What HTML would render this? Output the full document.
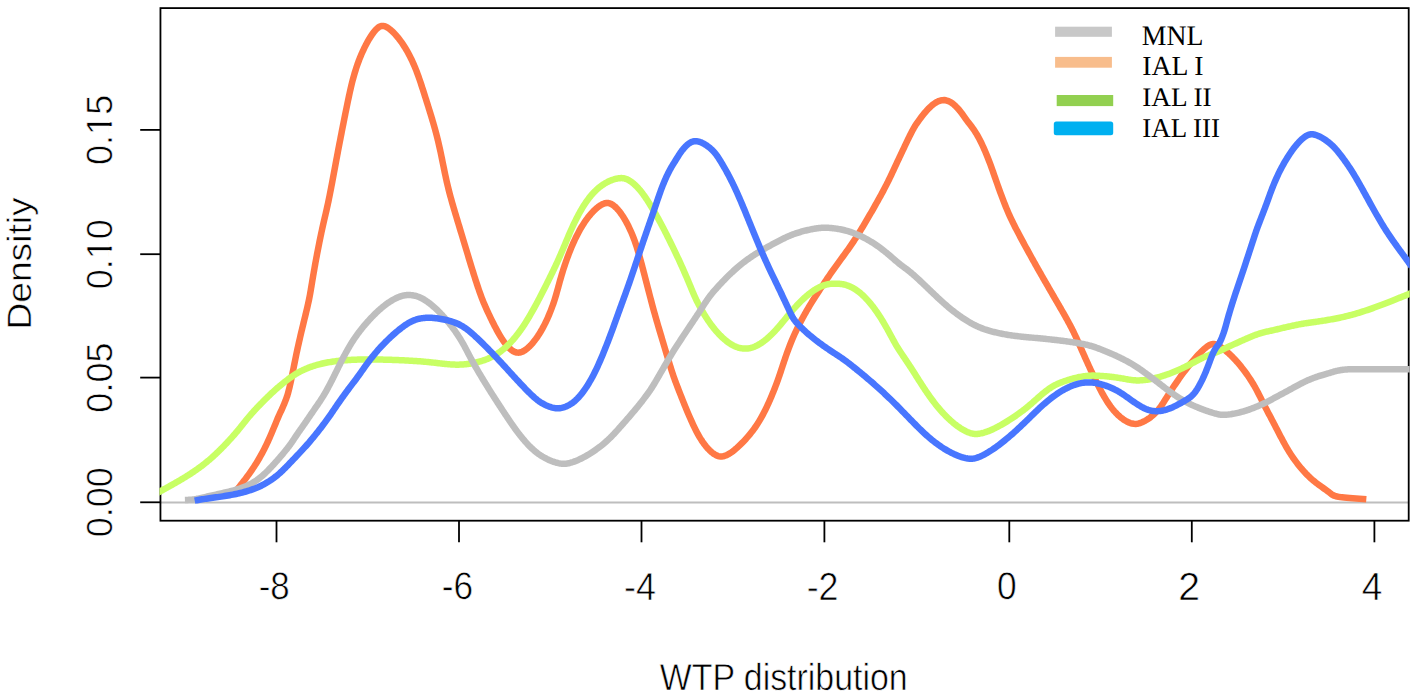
<!DOCTYPE html><html><head><meta charset="utf-8"><title>WTP distribution</title><style>html,body{margin:0;padding:0;background:#fff;overflow:hidden}svg{display:block}text{text-rendering:geometricPrecision}</style></head><body><svg width="1417" height="697" viewBox="0 0 1417 697"><rect x="0" y="0" width="1417" height="697" fill="#fff"/><line x1="160.45" y1="502.50" x2="1408.70" y2="502.50" stroke="#bebebe" stroke-width="2.00"/><rect x="160.45" y="8.10" width="1248.25" height="512.60" fill="none" stroke="#000" stroke-width="1.80"/><defs><clipPath id="c"><rect x="159.45" y="7.10" width="1250.25" height="514.60"/></clipPath></defs><g clip-path="url(#c)" fill="none" stroke-width="6.50" stroke-linejoin="round" stroke-linecap="butt" shape-rendering="auto"><path d="M237.58,489.00 L238.49,487.85 L239.40,486.70 L240.30,485.54 L241.21,484.39 L242.12,483.23 L243.03,482.05 L243.96,480.86 L244.90,479.63 L245.85,478.36 L246.83,477.05 L247.83,475.69 L248.84,474.29 L249.87,472.86 L250.90,471.38 L251.95,469.86 L252.99,468.30 L254.05,466.71 L255.10,465.08 L256.15,463.42 L257.19,461.72 L258.23,460.00 L259.26,458.24 L260.28,456.47 L261.28,454.66 L262.27,452.84 L263.24,451.01 L264.19,449.16 L265.12,447.30 L266.04,445.45 L266.92,443.60 L267.79,441.75 L268.62,439.91 L269.44,438.09 L270.23,436.28 L271.00,434.50 L271.75,432.74 L272.48,431.00 L273.19,429.30 L273.88,427.63 L274.55,426.00 L275.20,424.41 L275.84,422.88 L276.45,421.39 L277.04,419.98 L277.61,418.62 L278.16,417.35 L278.69,416.15 L279.20,415.02 L279.69,413.96 L280.16,412.94 L280.62,411.96 L281.07,411.01 L281.51,410.07 L281.94,409.13 L282.36,408.18 L282.78,407.23 L283.19,406.28 L283.59,405.33 L283.98,404.39 L284.37,403.45 L284.74,402.53 L285.10,401.62 L285.44,400.74 L285.78,399.87 L286.10,399.01 L286.42,398.15 L286.73,397.26 L287.04,396.35 L287.35,395.39 L287.66,394.38 L287.97,393.30 L288.29,392.14 L288.62,390.90 L288.96,389.57 L289.30,388.16 L289.65,386.68 L290.01,385.11 L290.38,383.48 L290.75,381.77 L291.13,379.99 L291.52,378.14 L291.91,376.23 L292.31,374.26 L292.72,372.24 L293.14,370.17 L293.56,368.06 L293.98,365.92 L294.42,363.74 L294.86,361.55 L295.30,359.34 L295.76,357.13 L296.22,354.91 L296.68,352.69 L297.16,350.48 L297.63,348.29 L298.11,346.11 L298.59,343.95 L299.08,341.81 L299.56,339.70 L300.04,337.62 L300.51,335.57 L300.98,333.56 L301.45,331.59 L301.91,329.67 L302.36,327.78 L302.80,325.95 L303.23,324.15 L303.66,322.40 L304.07,320.70 L304.48,319.05 L304.87,317.45 L305.24,315.90 L305.61,314.39 L305.96,312.94 L306.30,311.55 L306.62,310.20 L306.93,308.90 L307.22,307.65 L307.50,306.44 L307.77,305.27 L308.02,304.15 L308.26,303.05 L308.50,301.99 L308.72,300.96 L308.93,299.96 L309.13,298.98 L309.33,298.02 L309.51,297.08 L309.69,296.15 L309.86,295.23 L310.03,294.30 L310.20,293.36 L310.37,292.41 L310.54,291.43 L310.71,290.41 L310.89,289.35 L311.07,288.25 L311.27,287.08 L311.47,285.86 L311.69,284.56 L311.92,283.19 L312.15,281.77 L312.40,280.28 L312.66,278.75 L312.93,277.18 L313.20,275.57 L313.48,273.94 L313.77,272.28 L314.06,270.61 L314.35,268.94 L314.65,267.26 L314.95,265.59 L315.24,263.92 L315.54,262.27 L315.85,260.63 L316.15,259.00 L316.45,257.39 L316.75,255.79 L317.05,254.20 L317.35,252.64 L317.65,251.08 L317.94,249.55 L318.24,248.03 L318.53,246.54 L318.83,245.07 L319.12,243.61 L319.40,242.18 L319.69,240.77 L319.97,239.38 L320.25,238.01 L320.54,236.65 L320.81,235.31 L321.09,233.99 L321.37,232.68 L321.65,231.38 L321.93,230.09 L322.21,228.81 L322.49,227.55 L322.77,226.28 L323.05,225.03 L323.33,223.78 L323.62,222.54 L323.90,221.29 L324.19,220.05 L324.48,218.79 L324.78,217.53 L325.08,216.25 L325.38,214.95 L325.69,213.63 L326.00,212.28 L326.32,210.90 L326.64,209.48 L326.97,208.03 L327.30,206.52 L327.64,204.97 L327.99,203.37 L328.34,201.71 L328.70,199.99 L329.07,198.20 L329.45,196.34 L329.83,194.42 L330.22,192.44 L330.62,190.41 L331.02,188.32 L331.43,186.20 L331.84,184.04 L332.26,181.84 L332.67,179.63 L333.09,177.39 L333.51,175.13 L333.93,172.87 L334.36,170.61 L334.78,168.35 L335.20,166.10 L335.61,163.86 L336.03,161.64 L336.44,159.45 L336.85,157.28 L337.25,155.15 L337.65,153.04 L338.04,150.97 L338.43,148.92 L338.82,146.90 L339.20,144.90 L339.58,142.94 L339.96,141.00 L340.33,139.09 L340.69,137.21 L341.05,135.35 L341.41,133.52 L341.76,131.72 L342.11,129.94 L342.46,128.19 L342.80,126.46 L343.14,124.76 L343.47,123.09 L343.80,121.43 L344.12,119.80 L344.44,118.19 L344.76,116.60 L345.08,115.02 L345.39,113.47 L345.71,111.92 L346.02,110.39 L346.33,108.87 L346.63,107.37 L346.94,105.87 L347.25,104.38 L347.55,102.90 L347.86,101.42 L348.17,99.95 L348.48,98.48 L348.79,97.01 L349.10,95.55 L349.41,94.08 L349.73,92.62 L350.06,91.15 L350.39,89.69 L350.72,88.22 L351.07,86.75 L351.42,85.27 L351.78,83.79 L352.15,82.31 L352.53,80.82 L352.92,79.32 L353.33,77.82 L353.75,76.30 L354.18,74.78 L354.63,73.26 L355.09,71.72 L355.57,70.17 L356.06,68.62 L356.58,67.06 L357.11,65.49 L357.66,63.92 L358.23,62.34 L358.82,60.75 L359.43,59.16 L360.07,57.56 L360.73,55.95 L361.41,54.34 L362.11,52.73 L362.84,51.12 L363.59,49.52 L364.35,47.92 L365.14,46.33 L365.95,44.76 L366.77,43.21 L367.62,41.68 L368.48,40.17 L369.35,38.69 L370.24,37.25 L371.14,35.86 L372.05,34.51 L372.96,33.24 L373.88,32.03 L374.80,30.90 L375.71,29.86 L376.63,28.91 L377.55,28.08 L378.47,27.36 L379.39,26.77 L380.32,26.32 L381.26,26.02 L382.23,25.88 L383.24,25.91 L384.30,26.12 L385.44,26.52 L386.63,27.09 L387.86,27.82 L389.13,28.69 L390.43,29.71 L391.74,30.84 L393.05,32.08 L394.36,33.41 L395.66,34.83 L396.94,36.32 L398.21,37.86 L399.45,39.45 L400.66,41.08 L401.83,42.74 L402.97,44.42 L404.07,46.11 L405.14,47.81 L406.17,49.52 L407.16,51.22 L408.11,52.92 L409.02,54.60 L409.89,56.26 L410.73,57.91 L411.53,59.54 L412.29,61.16 L413.03,62.77 L413.73,64.36 L414.42,65.95 L415.07,67.53 L415.71,69.11 L416.33,70.68 L416.93,72.24 L417.51,73.81 L418.08,75.37 L418.64,76.92 L419.18,78.47 L419.72,80.02 L420.24,81.56 L420.75,83.09 L421.25,84.61 L421.75,86.12 L422.24,87.63 L422.72,89.12 L423.20,90.60 L423.67,92.08 L424.14,93.54 L424.61,94.99 L425.07,96.44 L425.52,97.87 L425.98,99.30 L426.43,100.73 L426.88,102.14 L427.32,103.55 L427.76,104.96 L428.20,106.36 L428.63,107.76 L429.07,109.15 L429.50,110.54 L429.93,111.93 L430.35,113.31 L430.78,114.69 L431.20,116.07 L431.61,117.45 L432.03,118.82 L432.44,120.20 L432.84,121.57 L433.24,122.94 L433.64,124.30 L434.03,125.67 L434.42,127.03 L434.80,128.40 L435.17,129.76 L435.54,131.12 L435.91,132.48 L436.27,133.85 L436.63,135.22 L436.98,136.60 L437.33,137.99 L437.67,139.39 L438.02,140.81 L438.36,142.24 L438.70,143.70 L439.04,145.17 L439.38,146.67 L439.72,148.20 L440.06,149.75 L440.41,151.33 L440.75,152.95 L441.10,154.60 L441.45,156.29 L441.80,158.01 L442.16,159.75 L442.51,161.52 L442.88,163.31 L443.24,165.12 L443.61,166.95 L443.99,168.78 L444.37,170.63 L444.75,172.48 L445.14,174.33 L445.53,176.18 L445.93,178.03 L446.34,179.87 L446.75,181.71 L447.17,183.52 L447.59,185.33 L448.02,187.11 L448.46,188.88 L448.90,190.63 L449.34,192.37 L449.80,194.09 L450.26,195.81 L450.72,197.51 L451.19,199.20 L451.66,200.89 L452.13,202.57 L452.62,204.24 L453.10,205.91 L453.59,207.58 L454.08,209.25 L454.57,210.91 L455.07,212.58 L455.57,214.25 L456.07,215.92 L456.58,217.60 L457.08,219.28 L457.59,220.97 L458.10,222.66 L458.61,224.35 L459.13,226.05 L459.64,227.76 L460.16,229.47 L460.68,231.18 L461.20,232.90 L461.72,234.63 L462.25,236.36 L462.77,238.09 L463.30,239.83 L463.82,241.58 L464.35,243.33 L464.88,245.09 L465.41,246.85 L465.94,248.61 L466.47,250.38 L467.00,252.14 L467.54,253.91 L468.07,255.68 L468.60,257.44 L469.13,259.20 L469.67,260.96 L470.20,262.71 L470.73,264.46 L471.26,266.19 L471.79,267.92 L472.32,269.64 L472.85,271.34 L473.38,273.04 L473.91,274.72 L474.44,276.38 L474.96,278.03 L475.48,279.65 L476.00,281.26 L476.51,282.83 L477.02,284.38 L477.53,285.89 L478.02,287.38 L478.51,288.83 L479.00,290.24 L479.48,291.60 L479.94,292.93 L480.40,294.21 L480.85,295.45 L481.30,296.63 L481.73,297.78 L482.16,298.90 L482.60,300.00 L483.03,301.08 L483.47,302.15 L483.92,303.22 L484.38,304.30 L484.85,305.39 L485.34,306.50 L485.85,307.64 L486.38,308.82 L486.93,310.04 L487.51,311.31 L488.12,312.63 L488.75,314.00 L489.42,315.41 L490.11,316.86 L490.83,318.36 L491.58,319.89 L492.35,321.47 L493.16,323.08 L494.00,324.72 L494.87,326.40 L495.77,328.11 L496.70,329.84 L497.66,331.59 L498.65,333.34 L499.67,335.08 L500.71,336.81 L501.79,338.52 L502.90,340.19 L504.03,341.83 L505.19,343.41 L506.38,344.92 L507.58,346.34 L508.82,347.66 L510.07,348.86 L511.34,349.92 L512.63,350.84 L513.94,351.58 L515.27,352.14 L516.62,352.50 L518.00,352.64 L519.39,352.55 L520.81,352.23 L522.23,351.71 L523.65,351.01 L525.08,350.14 L526.49,349.12 L527.88,347.96 L529.26,346.69 L530.61,345.32 L531.93,343.87 L533.22,342.35 L534.47,340.77 L535.69,339.16 L536.86,337.52 L538.00,335.85 L539.09,334.16 L540.15,332.47 L541.16,330.77 L542.13,329.09 L543.05,327.41 L543.94,325.75 L544.78,324.11 L545.59,322.49 L546.36,320.88 L547.10,319.29 L547.80,317.72 L548.48,316.16 L549.13,314.63 L549.76,313.11 L550.36,311.61 L550.94,310.13 L551.50,308.66 L552.05,307.20 L552.58,305.75 L553.09,304.30 L553.59,302.85 L554.07,301.40 L554.55,299.95 L555.01,298.49 L555.46,297.01 L555.91,295.52 L556.35,294.01 L556.78,292.48 L557.21,290.93 L557.64,289.36 L558.08,287.77 L558.51,286.16 L558.96,284.53 L559.41,282.87 L559.87,281.20 L560.35,279.50 L560.84,277.77 L561.34,276.02 L561.87,274.25 L562.42,272.46 L562.98,270.65 L563.56,268.82 L564.16,266.97 L564.77,265.12 L565.41,263.26 L566.05,261.39 L566.72,259.52 L567.39,257.65 L568.09,255.78 L568.79,253.91 L569.51,252.05 L570.25,250.20 L571.00,248.35 L571.77,246.51 L572.56,244.68 L573.36,242.86 L574.18,241.05 L575.02,239.25 L575.89,237.46 L576.77,235.69 L577.68,233.92 L578.60,232.17 L579.55,230.43 L580.53,228.71 L581.53,227.01 L582.56,225.34 L583.61,223.68 L584.69,222.05 L585.80,220.45 L586.94,218.87 L588.11,217.33 L589.31,215.82 L590.53,214.36 L591.77,212.95 L593.02,211.60 L594.29,210.32 L595.56,209.12 L596.84,208.00 L598.12,206.97 L599.39,206.04 L600.65,205.22 L601.88,204.52 L603.09,203.94 L604.26,203.49 L605.39,203.18 L606.47,203.01 L607.53,202.98 L608.56,203.08 L609.59,203.33 L610.62,203.72 L611.66,204.23 L612.71,204.87 L613.76,205.64 L614.82,206.51 L615.88,207.49 L616.94,208.58 L618.00,209.75 L619.06,211.02 L620.11,212.36 L621.14,213.77 L622.17,215.25 L623.18,216.78 L624.16,218.36 L625.13,219.98 L626.07,221.64 L626.99,223.33 L627.88,225.04 L628.75,226.77 L629.58,228.52 L630.39,230.27 L631.17,232.03 L631.91,233.78 L632.63,235.53 L633.31,237.26 L633.97,238.99 L634.60,240.72 L635.20,242.43 L635.79,244.14 L636.35,245.85 L636.90,247.54 L637.42,249.23 L637.94,250.92 L638.44,252.60 L638.92,254.27 L639.40,255.93 L639.87,257.60 L640.33,259.25 L640.78,260.91 L641.23,262.56 L641.67,264.21 L642.11,265.86 L642.54,267.51 L642.97,269.16 L643.40,270.82 L643.83,272.47 L644.26,274.12 L644.69,275.78 L645.11,277.43 L645.54,279.08 L645.97,280.73 L646.39,282.36 L646.81,283.99 L647.23,285.61 L647.64,287.21 L648.06,288.80 L648.46,290.37 L648.86,291.93 L649.26,293.46 L649.65,294.98 L650.04,296.48 L650.43,297.97 L650.82,299.44 L651.20,300.92 L651.59,302.39 L651.98,303.86 L652.37,305.33 L652.77,306.82 L653.18,308.31 L653.59,309.82 L654.01,311.35 L654.44,312.90 L654.89,314.47 L655.34,316.07 L655.80,317.68 L656.27,319.32 L656.75,320.98 L657.24,322.65 L657.73,324.34 L658.23,326.05 L658.74,327.77 L659.25,329.50 L659.77,331.25 L660.29,333.00 L660.82,334.77 L661.35,336.54 L661.88,338.31 L662.41,340.09 L662.94,341.86 L663.47,343.63 L663.99,345.39 L664.52,347.14 L665.04,348.88 L665.56,350.60 L666.07,352.30 L666.57,353.98 L667.07,355.64 L667.56,357.27 L668.04,358.86 L668.51,360.42 L668.97,361.94 L669.42,363.42 L669.86,364.85 L670.29,366.24 L670.70,367.57 L671.09,368.84 L671.48,370.05 L671.84,371.20 L672.20,372.29 L672.54,373.32 L672.87,374.31 L673.19,375.26 L673.51,376.19 L673.83,377.10 L674.15,378.01 L674.48,378.91 L674.82,379.83 L675.16,380.77 L675.53,381.74 L675.90,382.75 L676.30,383.80 L676.72,384.91 L677.16,386.06 L677.62,387.27 L678.11,388.53 L678.61,389.84 L679.14,391.21 L679.70,392.63 L680.28,394.11 L680.89,395.65 L681.52,397.26 L682.18,398.92 L682.86,400.64 L683.57,402.41 L684.31,404.24 L685.07,406.11 L685.86,408.02 L686.67,409.97 L687.50,411.96 L688.36,413.97 L689.23,416.01 L690.13,418.06 L691.05,420.14 L691.99,422.21 L692.95,424.29 L693.93,426.36 L694.92,428.41 L695.94,430.43 L696.98,432.42 L698.04,434.37 L699.12,436.27 L700.21,438.11 L701.33,439.89 L702.46,441.60 L703.61,443.25 L704.77,444.82 L705.95,446.32 L707.15,447.74 L708.36,449.08 L709.58,450.33 L710.81,451.48 L712.04,452.53 L713.27,453.48 L714.50,454.31 L715.71,455.02 L716.91,455.60 L718.10,456.05 L719.29,456.35 L720.49,456.51 L721.72,456.51 L722.98,456.35 L724.29,456.03 L725.65,455.55 L727.05,454.92 L728.47,454.16 L729.90,453.30 L731.33,452.35 L732.75,451.32 L734.16,450.22 L735.54,449.07 L736.91,447.88 L738.25,446.66 L739.56,445.42 L740.85,444.17 L742.10,442.92 L743.31,441.67 L744.50,440.42 L745.66,439.17 L746.78,437.92 L747.89,436.66 L748.97,435.40 L750.03,434.12 L751.06,432.83 L752.08,431.52 L753.09,430.20 L754.07,428.86 L755.04,427.50 L755.99,426.12 L756.93,424.73 L757.85,423.31 L758.75,421.88 L759.63,420.42 L760.50,418.95 L761.36,417.46 L762.20,415.94 L763.02,414.41 L763.83,412.86 L764.62,411.30 L765.41,409.72 L766.17,408.14 L766.93,406.54 L767.68,404.93 L768.41,403.32 L769.13,401.70 L769.85,400.08 L770.55,398.46 L771.25,396.84 L771.93,395.21 L772.61,393.58 L773.28,391.96 L773.93,390.33 L774.58,388.70 L775.21,387.07 L775.84,385.44 L776.45,383.80 L777.06,382.17 L777.65,380.53 L778.24,378.90 L778.81,377.26 L779.37,375.62 L779.93,373.99 L780.48,372.35 L781.02,370.72 L781.56,369.09 L782.10,367.47 L782.63,365.85 L783.16,364.24 L783.69,362.63 L784.23,361.03 L784.76,359.44 L785.30,357.86 L785.84,356.29 L786.38,354.72 L786.93,353.16 L787.49,351.62 L788.05,350.08 L788.62,348.54 L789.19,347.02 L789.78,345.50 L790.37,343.98 L790.98,342.47 L791.59,340.97 L792.22,339.47 L792.86,337.98 L793.51,336.49 L794.17,335.00 L794.84,333.52 L795.52,332.05 L796.22,330.58 L796.92,329.12 L797.63,327.67 L798.34,326.23 L799.07,324.79 L799.79,323.36 L800.53,321.95 L801.27,320.54 L802.01,319.14 L802.76,317.75 L803.51,316.38 L804.27,315.01 L805.03,313.65 L805.79,312.30 L806.56,310.96 L807.33,309.63 L808.10,308.31 L808.88,307.00 L809.66,305.69 L810.44,304.39 L811.23,303.10 L812.03,301.81 L812.82,300.53 L813.63,299.26 L814.43,297.99 L815.24,296.72 L816.06,295.45 L816.88,294.18 L817.70,292.91 L818.53,291.64 L819.37,290.37 L820.21,289.09 L821.06,287.81 L821.91,286.52 L822.78,285.22 L823.64,283.92 L824.52,282.61 L825.39,281.30 L826.28,279.99 L827.16,278.68 L828.05,277.36 L828.95,276.06 L829.84,274.75 L830.74,273.45 L831.64,272.16 L832.55,270.87 L833.45,269.59 L834.35,268.32 L835.26,267.06 L836.16,265.81 L837.06,264.57 L837.96,263.33 L838.86,262.10 L839.75,260.87 L840.65,259.65 L841.53,258.44 L842.42,257.23 L843.30,256.02 L844.17,254.82 L845.04,253.62 L845.91,252.42 L846.77,251.22 L847.63,250.01 L848.49,248.80 L849.34,247.59 L850.19,246.36 L851.05,245.13 L851.90,243.88 L852.75,242.62 L853.60,241.35 L854.45,240.06 L855.31,238.75 L856.16,237.43 L857.02,236.09 L857.87,234.74 L858.73,233.37 L859.59,231.99 L860.45,230.59 L861.31,229.18 L862.18,227.76 L863.05,226.32 L863.92,224.87 L864.79,223.41 L865.66,221.93 L866.53,220.45 L867.40,218.97 L868.27,217.48 L869.13,215.98 L869.99,214.49 L870.85,213.00 L871.71,211.51 L872.56,210.03 L873.40,208.56 L874.24,207.09 L875.06,205.63 L875.88,204.19 L876.69,202.75 L877.49,201.33 L878.28,199.93 L879.05,198.54 L879.81,197.17 L880.56,195.82 L881.29,194.48 L882.00,193.17 L882.70,191.88 L883.38,190.61 L884.05,189.34 L884.71,188.09 L885.36,186.84 L886.01,185.59 L886.64,184.34 L887.28,183.09 L887.91,181.82 L888.54,180.54 L889.17,179.24 L889.81,177.93 L890.44,176.59 L891.09,175.24 L891.74,173.86 L892.39,172.46 L893.06,171.04 L893.73,169.59 L894.42,168.12 L895.11,166.62 L895.82,165.10 L896.54,163.56 L897.28,161.98 L898.03,160.39 L898.78,158.79 L899.55,157.17 L900.31,155.55 L901.08,153.93 L901.85,152.31 L902.61,150.70 L903.37,149.10 L904.12,147.52 L904.86,145.96 L905.60,144.42 L906.32,142.90 L907.04,141.41 L907.74,139.95 L908.43,138.53 L909.11,137.14 L909.77,135.79 L910.42,134.48 L911.06,133.21 L911.69,131.98 L912.31,130.80 L912.92,129.66 L913.53,128.56 L914.13,127.51 L914.73,126.51 L915.33,125.54 L915.95,124.59 L916.60,123.62 L917.30,122.62 L918.06,121.55 L918.90,120.41 L919.82,119.16 L920.83,117.79 L921.95,116.31 L923.15,114.76 L924.44,113.17 L925.81,111.55 L927.25,109.93 L928.76,108.35 L930.33,106.83 L931.95,105.39 L933.62,104.07 L935.33,102.89 L937.07,101.88 L938.82,101.07 L940.60,100.47 L942.37,100.13 L944.13,100.07 L945.89,100.30 L947.61,100.78 L949.31,101.50 L950.97,102.43 L952.58,103.54 L954.15,104.79 L955.66,106.18 L957.12,107.66 L958.51,109.21 L959.84,110.80 L961.10,112.40 L962.29,114.00 L963.43,115.57 L964.50,117.08 L965.51,118.51 L966.46,119.84 L967.36,121.06 L968.22,122.20 L969.04,123.27 L969.83,124.29 L970.60,125.29 L971.35,126.29 L972.11,127.30 L972.86,128.35 L973.62,129.43 L974.38,130.55 L975.14,131.71 L975.91,132.92 L976.67,134.17 L977.44,135.48 L978.21,136.84 L978.98,138.25 L979.75,139.72 L980.51,141.23 L981.28,142.78 L982.04,144.37 L982.79,146.00 L983.55,147.65 L984.29,149.33 L985.03,151.03 L985.76,152.75 L986.48,154.48 L987.19,156.23 L987.89,157.97 L988.57,159.72 L989.24,161.47 L989.90,163.20 L990.55,164.93 L991.17,166.65 L991.79,168.35 L992.39,170.03 L992.98,171.70 L993.56,173.35 L994.13,174.98 L994.69,176.59 L995.24,178.18 L995.79,179.74 L996.32,181.27 L996.85,182.78 L997.38,184.27 L997.89,185.73 L998.40,187.16 L998.90,188.57 L999.40,189.94 L999.89,191.30 L1000.37,192.62 L1000.85,193.92 L1001.33,195.20 L1001.80,196.47 L1002.27,197.72 L1002.74,198.95 L1003.21,200.18 L1003.68,201.39 L1004.15,202.61 L1004.63,203.81 L1005.11,205.02 L1005.59,206.22 L1006.08,207.41 L1006.57,208.61 L1007.07,209.81 L1007.58,211.01 L1008.10,212.20 L1008.62,213.41 L1009.16,214.62 L1009.71,215.84 L1010.28,217.08 L1010.87,218.34 L1011.48,219.63 L1012.10,220.94 L1012.76,222.28 L1013.43,223.65 L1014.13,225.04 L1014.85,226.47 L1015.58,227.91 L1016.33,229.37 L1017.10,230.85 L1017.88,232.34 L1018.67,233.84 L1019.46,235.35 L1020.27,236.86 L1021.08,238.38 L1021.89,239.89 L1022.71,241.41 L1023.53,242.92 L1024.35,244.43 L1025.17,245.94 L1025.99,247.44 L1026.81,248.93 L1027.62,250.41 L1028.43,251.89 L1029.24,253.35 L1030.04,254.81 L1030.85,256.26 L1031.65,257.71 L1032.44,259.15 L1033.24,260.58 L1034.04,262.00 L1034.83,263.42 L1035.62,264.83 L1036.41,266.24 L1037.20,267.64 L1037.99,269.04 L1038.78,270.43 L1039.58,271.83 L1040.37,273.22 L1041.16,274.61 L1041.95,276.00 L1042.75,277.38 L1043.55,278.77 L1044.34,280.16 L1045.14,281.55 L1045.95,282.94 L1046.75,284.34 L1047.55,285.73 L1048.36,287.12 L1049.16,288.51 L1049.97,289.91 L1050.78,291.31 L1051.59,292.70 L1052.39,294.10 L1053.20,295.49 L1054.01,296.89 L1054.82,298.29 L1055.63,299.68 L1056.44,301.07 L1057.24,302.47 L1058.05,303.85 L1058.85,305.24 L1059.65,306.62 L1060.45,308.00 L1061.25,309.38 L1062.04,310.75 L1062.82,312.13 L1063.60,313.49 L1064.38,314.85 L1065.15,316.21 L1065.91,317.57 L1066.66,318.92 L1067.41,320.26 L1068.15,321.61 L1068.87,322.95 L1069.60,324.30 L1070.31,325.64 L1071.01,326.99 L1071.71,328.34 L1072.40,329.69 L1073.08,331.06 L1073.75,332.42 L1074.41,333.80 L1075.07,335.18 L1075.72,336.57 L1076.36,337.96 L1077.00,339.35 L1077.64,340.75 L1078.27,342.15 L1078.89,343.55 L1079.51,344.95 L1080.14,346.35 L1080.76,347.76 L1081.37,349.16 L1081.99,350.57 L1082.61,351.97 L1083.23,353.37 L1083.85,354.78 L1084.47,356.18 L1085.09,357.58 L1085.72,358.98 L1086.35,360.37 L1086.98,361.77 L1087.62,363.17 L1088.26,364.58 L1088.91,365.99 L1089.56,367.41 L1090.22,368.83 L1090.89,370.27 L1091.57,371.72 L1092.25,373.18 L1092.94,374.65 L1093.64,376.14 L1094.36,377.64 L1095.08,379.15 L1095.82,380.67 L1096.57,382.21 L1097.34,383.76 L1098.12,385.33 L1098.91,386.91 L1099.73,388.50 L1100.56,390.10 L1101.42,391.71 L1102.30,393.32 L1103.21,394.95 L1104.15,396.58 L1105.12,398.21 L1106.12,399.84 L1107.15,401.48 L1108.22,403.11 L1109.34,404.74 L1110.50,406.35 L1111.71,407.95 L1112.97,409.53 L1114.29,411.09 L1115.67,412.62 L1117.11,414.11 L1118.60,415.55 L1120.15,416.93 L1121.75,418.24 L1123.39,419.44 L1125.07,420.54 L1126.79,421.52 L1128.54,422.36 L1130.31,423.03 L1132.09,423.53 L1133.86,423.82 L1135.61,423.89 L1137.34,423.73 L1139.03,423.36 L1140.66,422.83 L1142.23,422.19 L1143.71,421.48 L1145.09,420.76 L1146.38,420.02 L1147.58,419.29 L1148.70,418.55 L1149.74,417.80 L1150.73,417.05 L1151.65,416.30 L1152.52,415.55 L1153.34,414.81 L1154.11,414.08 L1154.85,413.36 L1155.56,412.66 L1156.23,411.96 L1156.88,411.28 L1157.49,410.60 L1158.09,409.92 L1158.66,409.25 L1159.22,408.57 L1159.78,407.86 L1160.35,407.10 L1160.94,406.28 L1161.57,405.38 L1162.25,404.37 L1163.00,403.24 L1163.81,401.97 L1164.70,400.58 L1165.65,399.07 L1166.67,397.46 L1167.74,395.75 L1168.87,393.97 L1170.05,392.12 L1171.27,390.23 L1172.54,388.29 L1173.84,386.32 L1175.18,384.32 L1176.56,382.31 L1177.96,380.28 L1179.39,378.25 L1180.85,376.22 L1182.32,374.19 L1183.82,372.18 L1185.33,370.19 L1186.86,368.22 L1188.38,366.29 L1189.91,364.40 L1191.43,362.55 L1192.94,360.76 L1194.43,359.04 L1195.89,357.38 L1197.33,355.80 L1198.74,354.30 L1200.10,352.88 L1201.43,351.55 L1202.72,350.32 L1203.96,349.19 L1205.14,348.16 L1206.27,347.24 L1207.35,346.43 L1208.38,345.73 L1209.37,345.15 L1210.33,344.68 L1211.26,344.33 L1212.17,344.11 L1213.06,344.00 L1213.95,344.02 L1214.88,344.16 L1215.85,344.44 L1216.89,344.86 L1218.03,345.42 L1219.27,346.12 L1220.61,346.97 L1222.06,347.96 L1223.58,349.07 L1225.17,350.31 L1226.82,351.68 L1228.50,353.15 L1230.22,354.74 L1231.95,356.43 L1233.69,358.20 L1235.42,360.05 L1237.15,361.95 L1238.84,363.91 L1240.51,365.90 L1242.12,367.91 L1243.69,369.94 L1245.21,371.97 L1246.66,373.99 L1248.05,375.99 L1249.38,377.95 L1250.63,379.86 L1251.81,381.72 L1252.90,383.52 L1253.93,385.24 L1254.88,386.91 L1255.77,388.50 L1256.60,390.03 L1257.37,391.49 L1258.10,392.88 L1258.78,394.20 L1259.42,395.46 L1260.02,396.66 L1260.60,397.81 L1261.15,398.92 L1261.69,400.00 L1262.22,401.07 L1262.75,402.12 L1263.28,403.19 L1263.82,404.26 L1264.37,405.35 L1264.93,406.46 L1265.51,407.58 L1266.09,408.71 L1266.69,409.86 L1267.29,411.03 L1267.91,412.21 L1268.54,413.41 L1269.19,414.62 L1269.84,415.85 L1270.50,417.10 L1271.18,418.37 L1271.86,419.66 L1272.55,420.98 L1273.25,422.32 L1273.96,423.68 L1274.68,425.06 L1275.41,426.46 L1276.15,427.88 L1276.89,429.32 L1277.64,430.77 L1278.40,432.24 L1279.16,433.71 L1279.92,435.18 L1280.68,436.65 L1281.45,438.10 L1282.21,439.54 L1282.97,440.97 L1283.74,442.39 L1284.52,443.81 L1285.31,445.22 L1286.11,446.63 L1286.93,448.04 L1287.76,449.45 L1288.61,450.86 L1289.47,452.25 L1290.34,453.62 L1291.22,454.98 L1292.10,456.30 L1292.99,457.60 L1293.89,458.87 L1294.80,460.14 L1295.73,461.39 L1296.68,462.65 L1297.65,463.90 L1298.65,465.17 L1299.66,466.43 L1300.69,467.69 L1301.74,468.93 L1302.80,470.16 L1303.88,471.36 L1304.97,472.55 L1306.07,473.73 L1307.20,474.88 L1308.35,476.03 L1309.52,477.16 L1310.73,478.28 L1311.96,479.39 L1313.25,480.50 L1314.58,481.60 L1315.96,482.70 L1317.39,483.79 L1318.84,484.86 L1320.30,485.92 L1321.76,486.96 L1323.20,487.98 L1324.61,488.96 L1325.93,489.89 L1327.15,490.77 L1328.23,491.57 L1329.15,492.29 L1329.95,492.94 L1330.66,493.52 L1331.31,494.04 L1331.95,494.51 L1332.61,494.94 L1333.32,495.32 L1334.10,495.67 L1334.98,495.99 L1335.99,496.27 L1337.15,496.53 L1338.50,496.76 L1340.10,496.99 L1341.98,497.21 L1344.19,497.44 L1346.76,497.68 L1349.63,497.94 L1352.73,498.21 L1356.01,498.48 L1359.38,498.75 L1362.84,499.02 L1366.33,499.29" stroke="#ff7845"/><path d="M157.35,492.89 L158.36,492.33 L159.39,491.77 L160.43,491.21 L161.48,490.63 L162.56,490.04 L163.64,489.45 L164.75,488.84 L165.87,488.23 L166.99,487.61 L168.13,486.98 L169.27,486.35 L170.42,485.71 L171.58,485.06 L172.73,484.41 L173.89,483.76 L175.05,483.10 L176.20,482.44 L177.35,481.78 L178.49,481.12 L179.63,480.46 L180.75,479.80 L181.87,479.13 L182.97,478.47 L184.05,477.82 L185.12,477.16 L186.18,476.50 L187.22,475.85 L188.25,475.20 L189.27,474.55 L190.28,473.90 L191.27,473.24 L192.26,472.59 L193.23,471.94 L194.19,471.29 L195.14,470.64 L196.08,469.99 L197.02,469.33 L197.94,468.67 L198.86,468.01 L199.77,467.35 L200.67,466.69 L201.57,466.02 L202.47,465.34 L203.35,464.66 L204.24,463.97 L205.12,463.27 L206.00,462.56 L206.88,461.85 L207.76,461.12 L208.64,460.38 L209.52,459.64 L210.40,458.87 L211.28,458.10 L212.16,457.31 L213.05,456.52 L213.93,455.70 L214.82,454.88 L215.71,454.05 L216.60,453.21 L217.49,452.35 L218.38,451.49 L219.27,450.62 L220.16,449.74 L221.04,448.85 L221.93,447.96 L222.82,447.06 L223.70,446.15 L224.59,445.24 L225.47,444.32 L226.34,443.40 L227.22,442.47 L228.09,441.54 L228.95,440.61 L229.81,439.67 L230.67,438.74 L231.51,437.80 L232.35,436.87 L233.18,435.93 L233.99,435.00 L234.80,434.07 L235.60,433.14 L236.38,432.22 L237.15,431.30 L237.91,430.39 L238.66,429.48 L239.40,428.57 L240.12,427.68 L240.83,426.79 L241.54,425.91 L242.23,425.05 L242.91,424.19 L243.59,423.34 L244.25,422.50 L244.91,421.68 L245.57,420.87 L246.21,420.07 L246.85,419.28 L247.48,418.51 L248.11,417.76 L248.74,417.01 L249.35,416.28 L249.97,415.56 L250.58,414.85 L251.19,414.15 L251.79,413.46 L252.39,412.78 L252.99,412.11 L253.59,411.45 L254.18,410.79 L254.78,410.14 L255.37,409.50 L255.97,408.86 L256.56,408.23 L257.15,407.61 L257.75,406.98 L258.35,406.36 L258.94,405.74 L259.54,405.13 L260.14,404.51 L260.75,403.89 L261.35,403.28 L261.96,402.66 L262.57,402.04 L263.19,401.42 L263.81,400.79 L264.44,400.16 L265.07,399.52 L265.72,398.88 L266.37,398.23 L267.04,397.57 L267.71,396.91 L268.40,396.24 L269.11,395.55 L269.83,394.86 L270.57,394.16 L271.32,393.45 L272.08,392.73 L272.85,392.02 L273.64,391.30 L274.42,390.58 L275.21,389.87 L276.01,389.16 L276.80,388.46 L277.59,387.77 L278.38,387.09 L279.16,386.43 L279.94,385.78 L280.71,385.15 L281.47,384.52 L282.23,383.91 L282.98,383.32 L283.72,382.73 L284.45,382.16 L285.17,381.60 L285.88,381.05 L286.59,380.51 L287.28,379.98 L287.96,379.47 L288.63,378.96 L289.30,378.46 L289.96,377.97 L290.62,377.48 L291.29,377.01 L291.95,376.54 L292.62,376.08 L293.29,375.62 L293.98,375.16 L294.67,374.71 L295.37,374.27 L296.09,373.83 L296.83,373.38 L297.58,372.95 L298.34,372.51 L299.12,372.08 L299.92,371.65 L300.73,371.23 L301.56,370.81 L302.41,370.40 L303.27,369.99 L304.14,369.58 L305.03,369.18 L305.94,368.79 L306.87,368.40 L307.80,368.02 L308.76,367.65 L309.73,367.28 L310.72,366.92 L311.72,366.57 L312.74,366.23 L313.77,365.89 L314.81,365.56 L315.87,365.24 L316.95,364.93 L318.03,364.63 L319.14,364.33 L320.25,364.05 L321.38,363.77 L322.51,363.50 L323.66,363.25 L324.83,363.00 L326.00,362.77 L327.18,362.54 L328.38,362.32 L329.58,362.12 L330.80,361.92 L332.02,361.74 L333.24,361.56 L334.47,361.40 L335.71,361.24 L336.95,361.09 L338.19,360.95 L339.43,360.81 L340.67,360.69 L341.91,360.57 L343.15,360.46 L344.39,360.36 L345.63,360.26 L346.85,360.17 L348.08,360.08 L349.29,360.01 L350.50,359.93 L351.71,359.87 L352.90,359.81 L354.09,359.75 L355.28,359.70 L356.46,359.66 L357.63,359.62 L358.80,359.58 L359.97,359.55 L361.14,359.52 L362.31,359.50 L363.47,359.48 L364.63,359.46 L365.80,359.45 L366.97,359.44 L368.13,359.44 L369.30,359.44 L370.47,359.44 L371.65,359.44 L372.83,359.45 L374.02,359.46 L375.21,359.47 L376.40,359.49 L377.60,359.50 L378.81,359.52 L380.03,359.55 L381.26,359.57 L382.49,359.60 L383.73,359.63 L384.98,359.66 L386.25,359.70 L387.52,359.73 L388.81,359.77 L390.10,359.82 L391.41,359.86 L392.73,359.91 L394.07,359.96 L395.42,360.01 L396.79,360.06 L398.17,360.12 L399.56,360.18 L400.96,360.24 L402.37,360.30 L403.79,360.37 L405.21,360.44 L406.63,360.51 L408.04,360.58 L409.45,360.65 L410.86,360.73 L412.25,360.81 L413.63,360.89 L415.00,360.98 L416.34,361.07 L417.67,361.16 L418.98,361.25 L420.26,361.35 L421.51,361.44 L422.73,361.55 L423.93,361.65 L425.09,361.75 L426.23,361.86 L427.34,361.97 L428.43,362.08 L429.50,362.19 L430.54,362.30 L431.56,362.41 L432.56,362.52 L433.54,362.63 L434.51,362.74 L435.46,362.85 L436.39,362.96 L437.31,363.06 L438.21,363.17 L439.10,363.27 L439.98,363.37 L440.84,363.46 L441.69,363.56 L442.53,363.65 L443.35,363.74 L444.16,363.82 L444.96,363.90 L445.74,363.98 L446.51,364.06 L447.27,364.13 L448.01,364.19 L448.74,364.26 L449.45,364.32 L450.15,364.37 L450.85,364.42 L451.53,364.46 L452.21,364.50 L452.89,364.54 L453.56,364.57 L454.23,364.60 L454.90,364.62 L455.57,364.63 L456.24,364.64 L456.92,364.65 L457.60,364.65 L458.29,364.64 L459.00,364.63 L459.72,364.61 L460.45,364.58 L461.20,364.55 L461.96,364.50 L462.75,364.45 L463.57,364.39 L464.40,364.32 L465.27,364.24 L466.15,364.15 L467.06,364.05 L467.98,363.93 L468.93,363.81 L469.90,363.67 L470.88,363.51 L471.88,363.34 L472.90,363.16 L473.93,362.95 L474.96,362.74 L476.01,362.50 L477.06,362.25 L478.12,361.99 L479.17,361.71 L480.23,361.41 L481.28,361.10 L482.32,360.77 L483.36,360.43 L484.39,360.07 L485.41,359.70 L486.42,359.31 L487.42,358.91 L488.40,358.49 L489.38,358.06 L490.34,357.62 L491.28,357.16 L492.21,356.69 L493.12,356.21 L494.02,355.71 L494.91,355.20 L495.78,354.68 L496.64,354.14 L497.49,353.60 L498.32,353.04 L499.15,352.47 L499.96,351.89 L500.76,351.30 L501.56,350.69 L502.34,350.07 L503.12,349.45 L503.89,348.81 L504.65,348.16 L505.41,347.49 L506.16,346.81 L506.90,346.12 L507.64,345.42 L508.38,344.70 L509.11,343.97 L509.84,343.22 L510.56,342.45 L511.28,341.67 L512.00,340.88 L512.72,340.07 L513.44,339.25 L514.15,338.41 L514.85,337.56 L515.56,336.71 L516.25,335.84 L516.94,334.96 L517.63,334.08 L518.31,333.19 L518.98,332.30 L519.64,331.40 L520.29,330.50 L520.93,329.60 L521.57,328.69 L522.19,327.79 L522.81,326.88 L523.41,325.98 L524.01,325.08 L524.60,324.17 L525.18,323.27 L525.75,322.36 L526.31,321.46 L526.87,320.56 L527.42,319.66 L527.97,318.76 L528.50,317.86 L529.04,316.96 L529.56,316.06 L530.09,315.17 L530.60,314.27 L531.12,313.38 L531.63,312.49 L532.13,311.60 L532.63,310.71 L533.13,309.82 L533.63,308.93 L534.13,308.04 L534.62,307.14 L535.11,306.24 L535.60,305.34 L536.09,304.44 L536.59,303.53 L537.08,302.61 L537.57,301.69 L538.06,300.76 L538.56,299.83 L539.05,298.89 L539.55,297.94 L540.05,296.98 L540.55,296.02 L541.06,295.04 L541.57,294.06 L542.08,293.07 L542.59,292.07 L543.10,291.07 L543.62,290.06 L544.13,289.04 L544.65,288.02 L545.17,286.99 L545.69,285.96 L546.21,284.92 L546.73,283.88 L547.26,282.83 L547.78,281.78 L548.30,280.73 L548.83,279.67 L549.35,278.61 L549.87,277.55 L550.39,276.48 L550.91,275.42 L551.43,274.35 L551.95,273.28 L552.47,272.21 L552.99,271.14 L553.50,270.07 L554.02,268.99 L554.53,267.92 L555.03,266.85 L555.54,265.77 L556.04,264.70 L556.54,263.62 L557.04,262.55 L557.53,261.47 L558.02,260.40 L558.51,259.32 L558.99,258.25 L559.47,257.18 L559.94,256.11 L560.41,255.04 L560.88,253.97 L561.34,252.91 L561.80,251.84 L562.25,250.78 L562.70,249.72 L563.15,248.66 L563.59,247.61 L564.04,246.55 L564.48,245.50 L564.92,244.45 L565.35,243.40 L565.79,242.36 L566.23,241.31 L566.66,240.27 L567.10,239.24 L567.53,238.20 L567.97,237.17 L568.41,236.14 L568.84,235.12 L569.28,234.10 L569.72,233.08 L570.17,232.06 L570.61,231.04 L571.06,230.03 L571.52,229.01 L571.98,228.00 L572.44,226.99 L572.91,225.97 L573.38,224.95 L573.86,223.94 L574.35,222.91 L574.85,221.89 L575.35,220.86 L575.86,219.83 L576.38,218.80 L576.91,217.76 L577.45,216.71 L578.00,215.66 L578.56,214.60 L579.14,213.54 L579.72,212.47 L580.32,211.41 L580.92,210.34 L581.54,209.27 L582.18,208.20 L582.82,207.14 L583.48,206.08 L584.14,205.02 L584.83,203.97 L585.52,202.92 L586.23,201.89 L586.95,200.86 L587.69,199.84 L588.44,198.83 L589.20,197.84 L589.98,196.86 L590.77,195.89 L591.58,194.94 L592.40,194.01 L593.23,193.09 L594.07,192.20 L594.93,191.32 L595.80,190.47 L596.68,189.64 L597.57,188.83 L598.48,188.05 L599.39,187.29 L600.32,186.56 L601.26,185.86 L602.20,185.18 L603.15,184.54 L604.11,183.92 L605.07,183.34 L606.04,182.78 L607.00,182.26 L607.97,181.76 L608.93,181.30 L609.89,180.87 L610.85,180.47 L611.80,180.10 L612.74,179.77 L613.66,179.47 L614.57,179.19 L615.47,178.95 L616.34,178.74 L617.19,178.56 L618.01,178.41 L618.80,178.29 L619.56,178.20 L620.29,178.14 L621.00,178.10 L621.68,178.10 L622.35,178.13 L623.00,178.19 L623.65,178.29 L624.30,178.42 L624.94,178.58 L625.59,178.78 L626.25,179.01 L626.92,179.28 L627.58,179.58 L628.26,179.92 L628.94,180.29 L629.62,180.70 L630.31,181.14 L631.00,181.61 L631.70,182.12 L632.41,182.66 L633.11,183.23 L633.82,183.83 L634.53,184.46 L635.25,185.12 L635.96,185.81 L636.67,186.52 L637.38,187.26 L638.09,188.02 L638.79,188.81 L639.49,189.61 L640.19,190.44 L640.87,191.28 L641.56,192.14 L642.23,193.02 L642.90,193.92 L643.57,194.83 L644.23,195.75 L644.89,196.68 L645.54,197.63 L646.18,198.59 L646.82,199.55 L647.46,200.52 L648.09,201.51 L648.72,202.49 L649.35,203.48 L649.97,204.48 L650.58,205.48 L651.20,206.48 L651.81,207.49 L652.42,208.50 L653.02,209.51 L653.62,210.54 L654.22,211.56 L654.82,212.60 L655.42,213.63 L656.02,214.68 L656.61,215.73 L657.20,216.79 L657.80,217.86 L658.39,218.93 L658.98,220.01 L659.57,221.10 L660.17,222.20 L660.76,223.30 L661.35,224.42 L661.95,225.54 L662.54,226.68 L663.14,227.82 L663.73,228.96 L664.33,230.12 L664.93,231.28 L665.52,232.45 L666.12,233.62 L666.72,234.81 L667.32,235.99 L667.92,237.19 L668.51,238.39 L669.11,239.59 L669.71,240.80 L670.31,242.01 L670.91,243.23 L671.51,244.45 L672.11,245.68 L672.71,246.90 L673.30,248.14 L673.90,249.37 L674.49,250.60 L675.09,251.84 L675.68,253.07 L676.26,254.31 L676.85,255.54 L677.43,256.77 L678.00,258.00 L678.58,259.23 L679.14,260.45 L679.71,261.67 L680.26,262.89 L680.82,264.10 L681.36,265.30 L681.90,266.50 L682.44,267.70 L682.96,268.88 L683.48,270.05 L683.99,271.21 L684.49,272.36 L684.98,273.49 L685.46,274.61 L685.93,275.70 L686.40,276.78 L686.85,277.83 L687.28,278.86 L687.71,279.87 L688.12,280.85 L688.52,281.80 L688.91,282.72 L689.28,283.61 L689.64,284.47 L689.98,285.29 L690.31,286.08 L690.62,286.84 L690.92,287.56 L691.21,288.26 L691.49,288.94 L691.76,289.59 L692.02,290.23 L692.28,290.85 L692.54,291.46 L692.79,292.06 L693.05,292.65 L693.30,293.24 L693.55,293.83 L693.81,294.42 L694.07,295.02 L694.34,295.62 L694.62,296.24 L694.91,296.87 L695.20,297.51 L695.51,298.18 L695.83,298.86 L696.17,299.56 L696.51,300.29 L696.87,301.03 L697.25,301.79 L697.65,302.57 L698.06,303.38 L698.48,304.20 L698.93,305.06 L699.40,305.93 L699.88,306.83 L700.39,307.75 L700.92,308.70 L701.47,309.68 L702.05,310.68 L702.65,311.71 L703.27,312.76 L703.91,313.84 L704.58,314.93 L705.27,316.04 L705.98,317.16 L706.71,318.30 L707.46,319.44 L708.23,320.59 L709.02,321.74 L709.83,322.89 L710.66,324.05 L711.51,325.19 L712.37,326.33 L713.25,327.47 L714.15,328.59 L715.06,329.70 L715.98,330.79 L716.91,331.86 L717.85,332.91 L718.81,333.94 L719.76,334.95 L720.73,335.92 L721.70,336.87 L722.67,337.78 L723.64,338.66 L724.61,339.51 L725.58,340.32 L726.55,341.09 L727.51,341.82 L728.47,342.52 L729.41,343.18 L730.35,343.80 L731.27,344.37 L732.19,344.91 L733.08,345.40 L733.96,345.85 L734.83,346.26 L735.68,346.63 L736.52,346.97 L737.35,347.26 L738.17,347.53 L738.97,347.76 L739.77,347.96 L740.55,348.13 L741.32,348.26 L742.09,348.38 L742.84,348.46 L743.59,348.52 L744.33,348.56 L745.07,348.58 L745.80,348.57 L746.52,348.55 L747.24,348.50 L747.96,348.43 L748.68,348.34 L749.40,348.23 L750.11,348.09 L750.83,347.92 L751.55,347.73 L752.27,347.52 L752.99,347.28 L753.72,347.01 L754.45,346.71 L755.19,346.39 L755.93,346.05 L756.68,345.68 L757.44,345.28 L758.20,344.86 L758.96,344.42 L759.73,343.96 L760.51,343.48 L761.28,342.98 L762.06,342.45 L762.84,341.91 L763.62,341.34 L764.39,340.76 L765.17,340.16 L765.94,339.54 L766.71,338.90 L767.48,338.24 L768.25,337.57 L769.01,336.88 L769.77,336.18 L770.52,335.47 L771.27,334.74 L772.02,334.00 L772.76,333.25 L773.50,332.49 L774.24,331.72 L774.98,330.94 L775.71,330.14 L776.45,329.33 L777.20,328.50 L777.94,327.66 L778.69,326.80 L779.45,325.92 L780.22,325.02 L781.00,324.10 L781.78,323.16 L782.58,322.20 L783.39,321.22 L784.21,320.22 L785.04,319.21 L785.88,318.18 L786.74,317.14 L787.60,316.10 L788.48,315.04 L789.36,313.98 L790.25,312.92 L791.16,311.85 L792.07,310.79 L793.00,309.73 L793.93,308.67 L794.87,307.62 L795.82,306.57 L796.77,305.54 L797.74,304.51 L798.70,303.50 L799.68,302.50 L800.66,301.52 L801.64,300.55 L802.63,299.60 L803.62,298.66 L804.61,297.75 L805.60,296.86 L806.59,296.00 L807.59,295.15 L808.58,294.34 L809.57,293.54 L810.56,292.78 L811.55,292.04 L812.53,291.34 L813.50,290.66 L814.47,290.01 L815.44,289.40 L816.39,288.82 L817.34,288.27 L818.28,287.76 L819.21,287.28 L820.14,286.83 L821.05,286.41 L821.95,286.03 L822.84,285.68 L823.73,285.36 L824.60,285.07 L825.46,284.81 L826.31,284.59 L827.15,284.39 L827.98,284.22 L828.80,284.08 L829.62,283.96 L830.43,283.87 L831.24,283.79 L832.04,283.73 L832.85,283.69 L833.66,283.67 L834.47,283.65 L835.29,283.65 L836.12,283.66 L836.96,283.67 L837.80,283.71 L838.65,283.75 L839.51,283.82 L840.38,283.90 L841.26,284.01 L842.14,284.14 L843.04,284.30 L843.94,284.49 L844.85,284.70 L845.76,284.95 L846.69,285.24 L847.62,285.55 L848.56,285.90 L849.50,286.28 L850.44,286.70 L851.39,287.15 L852.34,287.64 L853.30,288.16 L854.25,288.72 L855.20,289.31 L856.16,289.94 L857.11,290.60 L858.06,291.30 L859.01,292.03 L859.95,292.80 L860.89,293.59 L861.82,294.41 L862.75,295.26 L863.68,296.14 L864.59,297.04 L865.50,297.96 L866.40,298.91 L867.29,299.87 L868.18,300.86 L869.05,301.86 L869.91,302.88 L870.76,303.91 L871.61,304.96 L872.44,306.01 L873.25,307.08 L874.06,308.15 L874.85,309.22 L875.63,310.31 L876.40,311.39 L877.15,312.47 L877.89,313.56 L878.61,314.64 L879.32,315.71 L880.01,316.78 L880.69,317.84 L881.35,318.90 L882.00,319.95 L882.64,320.99 L883.26,322.02 L883.87,323.05 L884.46,324.06 L885.04,325.07 L885.61,326.06 L886.17,327.05 L886.72,328.02 L887.26,328.98 L887.78,329.93 L888.30,330.87 L888.81,331.80 L889.30,332.71 L889.79,333.61 L890.27,334.49 L890.74,335.36 L891.20,336.22 L891.66,337.07 L892.12,337.90 L892.57,338.73 L893.01,339.55 L893.45,340.36 L893.89,341.15 L894.33,341.94 L894.77,342.73 L895.21,343.50 L895.65,344.28 L896.10,345.04 L896.54,345.80 L896.99,346.56 L897.45,347.31 L897.90,348.06 L898.37,348.80 L898.84,349.55 L899.32,350.29 L899.80,351.03 L900.29,351.78 L900.79,352.53 L901.29,353.28 L901.80,354.04 L902.31,354.80 L902.83,355.57 L903.36,356.35 L903.90,357.13 L904.44,357.93 L904.98,358.73 L905.54,359.55 L906.10,360.38 L906.67,361.23 L907.24,362.09 L907.83,362.97 L908.42,363.86 L909.01,364.77 L909.62,365.70 L910.23,366.64 L910.84,367.59 L911.46,368.56 L912.09,369.55 L912.73,370.54 L913.37,371.55 L914.01,372.56 L914.66,373.59 L915.32,374.62 L915.98,375.66 L916.65,376.71 L917.32,377.77 L917.99,378.83 L918.67,379.90 L919.36,380.97 L920.05,382.04 L920.74,383.12 L921.43,384.20 L922.13,385.28 L922.84,386.36 L923.55,387.44 L924.26,388.52 L924.98,389.60 L925.70,390.68 L926.43,391.76 L927.17,392.84 L927.90,393.91 L928.65,394.98 L929.40,396.05 L930.16,397.11 L930.92,398.17 L931.69,399.22 L932.47,400.27 L933.25,401.31 L934.04,402.35 L934.83,403.38 L935.64,404.40 L936.45,405.41 L937.26,406.42 L938.09,407.42 L938.92,408.41 L939.76,409.39 L940.60,410.35 L941.45,411.31 L942.31,412.26 L943.18,413.20 L944.05,414.13 L944.93,415.05 L945.82,415.95 L946.71,416.84 L947.61,417.72 L948.52,418.59 L949.43,419.44 L950.34,420.28 L951.26,421.10 L952.19,421.90 L953.11,422.68 L954.03,423.45 L954.96,424.19 L955.88,424.91 L956.79,425.61 L957.71,426.28 L958.62,426.93 L959.52,427.55 L960.41,428.15 L961.30,428.71 L962.18,429.25 L963.05,429.76 L963.91,430.24 L964.76,430.69 L965.59,431.12 L966.42,431.51 L967.23,431.88 L968.02,432.21 L968.81,432.52 L969.57,432.79 L970.32,433.04 L971.06,433.26 L971.78,433.45 L972.49,433.61 L973.19,433.73 L973.88,433.83 L974.58,433.90 L975.28,433.95 L976.00,433.96 L976.72,433.94 L977.46,433.90 L978.22,433.82 L979.01,433.72 L979.83,433.59 L980.67,433.43 L981.54,433.25 L982.44,433.03 L983.37,432.78 L984.32,432.50 L985.30,432.20 L986.30,431.86 L987.33,431.49 L988.39,431.09 L989.47,430.66 L990.57,430.20 L991.70,429.70 L992.85,429.18 L994.01,428.63 L995.20,428.05 L996.40,427.44 L997.61,426.81 L998.83,426.16 L1000.06,425.49 L1001.30,424.80 L1002.54,424.10 L1003.79,423.37 L1005.04,422.64 L1006.28,421.89 L1007.52,421.13 L1008.75,420.36 L1009.97,419.59 L1011.18,418.82 L1012.36,418.04 L1013.53,417.26 L1014.68,416.49 L1015.80,415.71 L1016.90,414.95 L1017.97,414.19 L1019.01,413.44 L1020.02,412.70 L1021.00,411.98 L1021.95,411.26 L1022.87,410.56 L1023.75,409.88 L1024.60,409.22 L1025.42,408.58 L1026.20,407.95 L1026.95,407.35 L1027.68,406.75 L1028.38,406.17 L1029.06,405.60 L1029.72,405.04 L1030.37,404.49 L1031.00,403.95 L1031.63,403.41 L1032.24,402.87 L1032.86,402.33 L1033.46,401.80 L1034.07,401.26 L1034.68,400.73 L1035.28,400.19 L1035.88,399.66 L1036.49,399.13 L1037.09,398.59 L1037.69,398.06 L1038.29,397.52 L1038.90,396.99 L1039.50,396.46 L1040.11,395.92 L1040.72,395.39 L1041.34,394.85 L1041.96,394.32 L1042.59,393.78 L1043.24,393.24 L1043.89,392.71 L1044.55,392.17 L1045.22,391.63 L1045.91,391.10 L1046.61,390.56 L1047.32,390.03 L1048.04,389.50 L1048.76,388.98 L1049.50,388.47 L1050.24,387.97 L1050.99,387.48 L1051.75,387.01 L1052.51,386.55 L1053.28,386.10 L1054.07,385.66 L1054.87,385.24 L1055.69,384.82 L1056.54,384.41 L1057.42,384.00 L1058.34,383.60 L1059.29,383.19 L1060.29,382.78 L1061.34,382.37 L1062.43,381.96 L1063.56,381.54 L1064.73,381.13 L1065.92,380.72 L1067.13,380.32 L1068.37,379.93 L1069.61,379.54 L1070.86,379.17 L1072.11,378.82 L1073.36,378.48 L1074.60,378.15 L1075.82,377.85 L1077.04,377.56 L1078.23,377.30 L1079.42,377.05 L1080.58,376.82 L1081.72,376.61 L1082.83,376.43 L1083.93,376.26 L1084.99,376.11 L1086.02,375.99 L1087.03,375.88 L1088.03,375.80 L1089.00,375.73 L1089.97,375.68 L1090.94,375.64 L1091.92,375.62 L1092.90,375.62 L1093.91,375.62 L1094.93,375.64 L1095.99,375.67 L1097.08,375.71 L1098.19,375.76 L1099.34,375.82 L1100.50,375.88 L1101.68,375.95 L1102.87,376.04 L1104.06,376.13 L1105.25,376.22 L1106.45,376.32 L1107.63,376.43 L1108.79,376.55 L1109.95,376.67 L1111.08,376.80 L1112.20,376.94 L1113.31,377.08 L1114.40,377.22 L1115.49,377.37 L1116.56,377.53 L1117.63,377.69 L1118.69,377.86 L1119.74,378.03 L1120.79,378.20 L1121.83,378.38 L1122.86,378.56 L1123.89,378.74 L1124.90,378.92 L1125.91,379.10 L1126.89,379.27 L1127.87,379.44 L1128.83,379.60 L1129.77,379.75 L1130.69,379.88 L1131.61,380.01 L1132.53,380.12 L1133.44,380.22 L1134.37,380.30 L1135.30,380.36 L1136.26,380.41 L1137.23,380.43 L1138.24,380.44 L1139.28,380.42 L1140.34,380.37 L1141.44,380.31 L1142.56,380.22 L1143.69,380.12 L1144.84,379.99 L1146.00,379.84 L1147.17,379.67 L1148.34,379.49 L1149.51,379.28 L1150.67,379.06 L1151.84,378.82 L1153.00,378.57 L1154.16,378.30 L1155.32,378.01 L1156.48,377.72 L1157.64,377.41 L1158.80,377.09 L1159.97,376.76 L1161.13,376.42 L1162.29,376.07 L1163.46,375.70 L1164.63,375.33 L1165.80,374.94 L1166.98,374.54 L1168.16,374.12 L1169.35,373.69 L1170.55,373.25 L1171.75,372.79 L1172.96,372.31 L1174.17,371.82 L1175.39,371.32 L1176.60,370.80 L1177.82,370.27 L1179.05,369.73 L1180.27,369.17 L1181.49,368.61 L1182.71,368.03 L1183.93,367.44 L1185.14,366.84 L1186.35,366.24 L1187.55,365.63 L1188.75,365.02 L1189.95,364.40 L1191.13,363.79 L1192.30,363.18 L1193.44,362.58 L1194.55,362.00 L1195.62,361.43 L1196.65,360.89 L1197.63,360.38 L1198.54,359.90 L1199.40,359.46 L1200.20,359.05 L1200.95,358.67 L1201.67,358.32 L1202.35,357.98 L1203.02,357.67 L1203.67,357.38 L1204.31,357.09 L1204.95,356.82 L1205.60,356.55 L1206.26,356.28 L1206.93,356.01 L1207.61,355.74 L1208.32,355.46 L1209.05,355.17 L1209.81,354.88 L1210.59,354.57 L1211.39,354.25 L1212.21,353.92 L1213.05,353.59 L1213.90,353.25 L1214.76,352.91 L1215.64,352.56 L1216.52,352.20 L1217.41,351.84 L1218.30,351.46 L1219.19,351.08 L1220.09,350.69 L1220.98,350.29 L1221.87,349.87 L1222.77,349.45 L1223.68,349.02 L1224.60,348.58 L1225.54,348.13 L1226.49,347.67 L1227.47,347.21 L1228.46,346.75 L1229.48,346.28 L1230.51,345.81 L1231.55,345.33 L1232.60,344.86 L1233.66,344.38 L1234.73,343.90 L1235.80,343.42 L1236.86,342.94 L1237.92,342.47 L1238.98,342.00 L1240.01,341.54 L1241.03,341.08 L1242.02,340.64 L1242.98,340.20 L1243.93,339.77 L1244.85,339.36 L1245.76,338.95 L1246.66,338.54 L1247.56,338.15 L1248.45,337.76 L1249.34,337.39 L1250.23,337.01 L1251.12,336.65 L1252.01,336.29 L1252.90,335.94 L1253.79,335.59 L1254.69,335.25 L1255.59,334.92 L1256.49,334.60 L1257.40,334.28 L1258.30,333.97 L1259.20,333.68 L1260.11,333.39 L1261.00,333.12 L1261.90,332.85 L1262.79,332.61 L1263.69,332.37 L1264.58,332.14 L1265.47,331.92 L1266.36,331.71 L1267.26,331.50 L1268.16,331.29 L1269.07,331.09 L1269.97,330.89 L1270.88,330.70 L1271.80,330.50 L1272.71,330.30 L1273.63,330.10 L1274.55,329.89 L1275.47,329.68 L1276.39,329.47 L1277.32,329.25 L1278.24,329.03 L1279.16,328.81 L1280.07,328.59 L1280.99,328.38 L1281.89,328.16 L1282.79,327.95 L1283.69,327.74 L1284.58,327.53 L1285.47,327.33 L1286.35,327.13 L1287.24,326.93 L1288.12,326.73 L1289.01,326.53 L1289.91,326.34 L1290.81,326.14 L1291.71,325.94 L1292.62,325.74 L1293.53,325.54 L1294.44,325.34 L1295.34,325.15 L1296.25,324.96 L1297.14,324.78 L1298.03,324.60 L1298.91,324.42 L1299.78,324.25 L1300.64,324.09 L1301.48,323.94 L1302.31,323.80 L1303.13,323.67 L1303.94,323.54 L1304.75,323.41 L1305.56,323.29 L1306.37,323.17 L1307.18,323.06 L1308.00,322.94 L1308.84,322.83 L1309.69,322.71 L1310.55,322.59 L1311.44,322.47 L1312.34,322.34 L1313.28,322.21 L1314.24,322.08 L1315.22,321.94 L1316.23,321.79 L1317.26,321.64 L1318.31,321.48 L1319.38,321.32 L1320.47,321.15 L1321.58,320.98 L1322.71,320.80 L1323.85,320.62 L1325.01,320.43 L1326.18,320.23 L1327.37,320.03 L1328.57,319.83 L1329.77,319.62 L1330.99,319.40 L1332.22,319.18 L1333.47,318.95 L1334.72,318.71 L1335.98,318.47 L1337.25,318.21 L1338.53,317.95 L1339.82,317.69 L1341.12,317.41 L1342.43,317.12 L1343.75,316.82 L1345.08,316.51 L1346.41,316.19 L1347.76,315.86 L1349.11,315.52 L1350.48,315.17 L1351.85,314.80 L1353.22,314.42 L1354.61,314.03 L1356.00,313.62 L1357.39,313.21 L1358.80,312.78 L1360.20,312.35 L1361.61,311.91 L1363.02,311.45 L1364.43,310.99 L1365.84,310.52 L1367.26,310.05 L1368.67,309.56 L1370.08,309.07 L1371.49,308.58 L1372.90,308.08 L1374.30,307.57 L1375.70,307.06 L1377.09,306.55 L1378.48,306.03 L1379.85,305.52 L1381.22,305.00 L1382.58,304.48 L1383.93,303.97 L1385.26,303.45 L1386.58,302.94 L1387.89,302.43 L1389.18,301.92 L1390.46,301.42 L1391.72,300.92 L1392.96,300.43 L1394.18,299.95 L1395.38,299.47 L1396.56,299.00 L1397.72,298.54 L1398.87,298.08 L1399.99,297.63 L1401.10,297.18 L1402.18,296.74 L1403.25,296.31 L1404.29,295.89 L1405.32,295.47 L1406.32,295.06 L1407.31,294.66 L1408.28,294.26 L1409.23,293.87 L1410.18,293.48 L1411.12,293.09" stroke="#c8ff64"/><path d="M184.91,500.02 L185.63,500.00 L186.36,499.97 L187.10,499.94 L187.84,499.91 L188.59,499.87 L189.35,499.82 L190.13,499.77 L190.93,499.71 L191.75,499.63 L192.59,499.54 L193.46,499.43 L194.36,499.30 L195.29,499.14 L196.24,498.97 L197.23,498.77 L198.25,498.56 L199.29,498.34 L200.36,498.10 L201.46,497.86 L202.58,497.60 L203.72,497.34 L204.88,497.08 L206.06,496.81 L207.27,496.53 L208.48,496.26 L209.72,495.98 L210.97,495.70 L212.23,495.41 L213.50,495.13 L214.78,494.84 L216.07,494.55 L217.37,494.26 L218.66,493.97 L219.97,493.68 L221.27,493.39 L222.57,493.09 L223.87,492.79 L225.17,492.49 L226.46,492.19 L227.75,491.88 L229.02,491.57 L230.29,491.25 L231.55,490.93 L232.79,490.60 L234.01,490.26 L235.22,489.92 L236.42,489.57 L237.60,489.21 L238.76,488.84 L239.91,488.47 L241.04,488.08 L242.15,487.68 L243.24,487.27 L244.32,486.85 L245.39,486.41 L246.43,485.96 L247.46,485.50 L248.47,485.02 L249.46,484.53 L250.43,484.03 L251.39,483.51 L252.33,482.97 L253.26,482.42 L254.18,481.85 L255.08,481.28 L255.97,480.68 L256.84,480.08 L257.71,479.45 L258.56,478.82 L259.41,478.17 L260.24,477.51 L261.07,476.83 L261.89,476.14 L262.70,475.44 L263.51,474.72 L264.31,474.00 L265.10,473.26 L265.89,472.51 L266.67,471.75 L267.46,470.97 L268.23,470.19 L269.01,469.40 L269.78,468.60 L270.55,467.79 L271.32,466.97 L272.09,466.14 L272.86,465.31 L273.62,464.47 L274.38,463.63 L275.14,462.79 L275.88,461.95 L276.63,461.11 L277.36,460.27 L278.09,459.44 L278.81,458.61 L279.53,457.78 L280.23,456.97 L280.92,456.16 L281.60,455.37 L282.27,454.58 L282.92,453.80 L283.56,453.03 L284.19,452.28 L284.80,451.53 L285.40,450.80 L285.98,450.08 L286.55,449.38 L287.09,448.69 L287.62,448.01 L288.14,447.35 L288.64,446.69 L289.13,446.04 L289.60,445.40 L290.07,444.75 L290.54,444.11 L290.99,443.47 L291.45,442.83 L291.90,442.17 L292.35,441.52 L292.80,440.85 L293.26,440.17 L293.71,439.49 L294.18,438.79 L294.65,438.08 L295.12,437.37 L295.61,436.64 L296.10,435.89 L296.61,435.14 L297.13,434.36 L297.67,433.58 L298.21,432.78 L298.78,431.96 L299.35,431.14 L299.93,430.30 L300.52,429.46 L301.12,428.61 L301.72,427.76 L302.32,426.91 L302.92,426.05 L303.51,425.20 L304.10,424.36 L304.69,423.52 L305.27,422.68 L305.84,421.85 L306.42,421.02 L306.98,420.19 L307.55,419.36 L308.11,418.54 L308.67,417.73 L309.23,416.91 L309.79,416.09 L310.34,415.28 L310.90,414.47 L311.45,413.67 L312.00,412.86 L312.55,412.07 L313.09,411.28 L313.63,410.49 L314.16,409.72 L314.69,408.95 L315.21,408.19 L315.72,407.44 L316.23,406.71 L316.72,405.99 L317.21,405.28 L317.69,404.58 L318.16,403.89 L318.63,403.21 L319.09,402.53 L319.55,401.85 L320.00,401.17 L320.46,400.49 L320.92,399.79 L321.37,399.09 L321.84,398.36 L322.30,397.63 L322.77,396.87 L323.25,396.08 L323.74,395.27 L324.24,394.44 L324.75,393.57 L325.26,392.68 L325.79,391.76 L326.32,390.81 L326.86,389.85 L327.40,388.86 L327.95,387.85 L328.50,386.83 L329.06,385.79 L329.61,384.74 L330.17,383.68 L330.73,382.60 L331.29,381.52 L331.85,380.42 L332.41,379.33 L332.97,378.22 L333.52,377.12 L334.07,376.01 L334.63,374.90 L335.17,373.79 L335.72,372.68 L336.27,371.57 L336.81,370.46 L337.35,369.36 L337.89,368.27 L338.43,367.18 L338.97,366.10 L339.50,365.03 L340.03,363.96 L340.56,362.91 L341.08,361.87 L341.60,360.85 L342.12,359.83 L342.64,358.82 L343.16,357.83 L343.67,356.85 L344.18,355.88 L344.69,354.92 L345.20,353.97 L345.71,353.03 L346.22,352.11 L346.72,351.19 L347.23,350.29 L347.73,349.39 L348.24,348.51 L348.74,347.64 L349.24,346.78 L349.75,345.93 L350.25,345.08 L350.76,344.25 L351.27,343.42 L351.79,342.59 L352.31,341.77 L352.83,340.96 L353.37,340.14 L353.90,339.33 L354.45,338.52 L355.00,337.71 L355.56,336.90 L356.14,336.08 L356.72,335.27 L357.31,334.45 L357.91,333.62 L358.53,332.79 L359.16,331.95 L359.80,331.11 L360.46,330.26 L361.13,329.41 L361.81,328.55 L362.51,327.68 L363.22,326.81 L363.95,325.94 L364.69,325.05 L365.45,324.17 L366.22,323.27 L367.01,322.37 L367.82,321.47 L368.64,320.56 L369.48,319.64 L370.33,318.72 L371.21,317.79 L372.09,316.86 L373.00,315.93 L373.91,315.01 L374.84,314.08 L375.78,313.17 L376.73,312.26 L377.70,311.35 L378.67,310.46 L379.65,309.59 L380.64,308.72 L381.64,307.87 L382.64,307.04 L383.64,306.23 L384.65,305.45 L385.67,304.68 L386.67,303.94 L387.68,303.22 L388.68,302.52 L389.68,301.86 L390.66,301.22 L391.64,300.62 L392.60,300.05 L393.55,299.51 L394.49,299.00 L395.40,298.52 L396.30,298.08 L397.19,297.68 L398.06,297.30 L398.91,296.96 L399.75,296.64 L400.57,296.36 L401.38,296.10 L402.17,295.88 L402.95,295.68 L403.71,295.52 L404.46,295.37 L405.20,295.26 L405.94,295.17 L406.67,295.10 L407.40,295.05 L408.13,295.02 L408.86,295.02 L409.60,295.03 L410.35,295.07 L411.10,295.12 L411.85,295.20 L412.62,295.30 L413.40,295.43 L414.18,295.58 L414.98,295.76 L415.78,295.97 L416.60,296.20 L417.42,296.47 L418.24,296.76 L419.08,297.08 L419.92,297.44 L420.76,297.82 L421.61,298.24 L422.46,298.68 L423.31,299.15 L424.17,299.66 L425.03,300.18 L425.89,300.74 L426.75,301.32 L427.61,301.92 L428.47,302.55 L429.33,303.20 L430.19,303.86 L431.04,304.54 L431.89,305.24 L432.73,305.95 L433.57,306.68 L434.40,307.42 L435.23,308.17 L436.05,308.93 L436.86,309.70 L437.67,310.47 L438.47,311.26 L439.26,312.05 L440.04,312.85 L440.81,313.66 L441.58,314.46 L442.33,315.28 L443.08,316.10 L443.82,316.92 L444.55,317.75 L445.27,318.58 L445.99,319.41 L446.69,320.24 L447.39,321.08 L448.07,321.91 L448.75,322.75 L449.42,323.58 L450.07,324.41 L450.72,325.24 L451.36,326.07 L451.99,326.89 L452.60,327.71 L453.21,328.53 L453.81,329.34 L454.39,330.15 L454.97,330.95 L455.53,331.75 L456.08,332.55 L456.62,333.34 L457.16,334.12 L457.68,334.90 L458.19,335.68 L458.69,336.46 L459.19,337.23 L459.67,338.00 L460.15,338.77 L460.62,339.53 L461.08,340.30 L461.54,341.06 L461.99,341.83 L462.43,342.60 L462.87,343.38 L463.31,344.16 L463.75,344.95 L464.19,345.74 L464.63,346.55 L465.06,347.36 L465.51,348.19 L465.95,349.03 L466.39,349.88 L466.84,350.74 L467.29,351.61 L467.75,352.48 L468.22,353.37 L468.68,354.27 L469.16,355.18 L469.64,356.09 L470.13,357.02 L470.63,357.95 L471.14,358.89 L471.65,359.83 L472.17,360.79 L472.69,361.74 L473.22,362.70 L473.75,363.66 L474.29,364.63 L474.84,365.59 L475.39,366.56 L475.94,367.52 L476.50,368.49 L477.06,369.45 L477.62,370.42 L478.18,371.38 L478.75,372.34 L479.32,373.30 L479.89,374.25 L480.46,375.21 L481.03,376.16 L481.60,377.11 L482.17,378.05 L482.74,379.00 L483.31,379.94 L483.88,380.87 L484.45,381.80 L485.02,382.73 L485.58,383.66 L486.15,384.58 L486.72,385.49 L487.28,386.41 L487.84,387.31 L488.40,388.21 L488.96,389.11 L489.52,390.00 L490.08,390.89 L490.63,391.77 L491.19,392.64 L491.74,393.51 L492.29,394.38 L492.84,395.24 L493.39,396.10 L493.94,396.96 L494.48,397.81 L495.03,398.66 L495.57,399.50 L496.12,400.35 L496.66,401.19 L497.21,402.03 L497.75,402.87 L498.30,403.71 L498.84,404.55 L499.38,405.38 L499.93,406.22 L500.47,407.06 L501.02,407.89 L501.57,408.73 L502.11,409.57 L502.66,410.41 L503.22,411.25 L503.77,412.09 L504.33,412.93 L504.88,413.78 L505.44,414.63 L506.01,415.48 L506.57,416.33 L507.14,417.18 L507.71,418.04 L508.29,418.90 L508.87,419.76 L509.46,420.63 L510.05,421.49 L510.64,422.36 L511.24,423.23 L511.84,424.11 L512.45,424.98 L513.06,425.86 L513.68,426.74 L514.31,427.61 L514.94,428.49 L515.57,429.37 L516.21,430.25 L516.86,431.12 L517.51,431.99 L518.17,432.86 L518.84,433.73 L519.51,434.59 L520.18,435.45 L520.86,436.31 L521.55,437.16 L522.23,438.00 L522.93,438.83 L523.62,439.66 L524.32,440.47 L525.02,441.28 L525.73,442.08 L526.44,442.87 L527.15,443.65 L527.86,444.41 L528.58,445.17 L529.30,445.91 L530.03,446.64 L530.76,447.36 L531.49,448.06 L532.23,448.75 L532.97,449.43 L533.72,450.10 L534.47,450.75 L535.23,451.39 L535.99,452.01 L536.77,452.62 L537.55,453.22 L538.33,453.81 L539.13,454.38 L539.94,454.93 L540.76,455.48 L541.59,456.01 L542.43,456.53 L543.29,457.03 L544.15,457.52 L545.02,458.00 L545.90,458.46 L546.78,458.91 L547.68,459.34 L548.57,459.76 L549.47,460.17 L550.37,460.55 L551.27,460.92 L552.18,461.28 L553.08,461.61 L553.97,461.93 L554.86,462.23 L555.75,462.50 L556.63,462.75 L557.50,462.98 L558.36,463.19 L559.21,463.37 L560.04,463.52 L560.87,463.64 L561.69,463.73 L562.51,463.80 L563.34,463.83 L564.17,463.82 L565.03,463.78 L565.90,463.70 L566.81,463.58 L567.74,463.43 L568.71,463.22 L569.72,462.98 L570.77,462.69 L571.85,462.36 L572.97,462.00 L574.11,461.59 L575.28,461.15 L576.47,460.67 L577.67,460.17 L578.88,459.63 L580.11,459.06 L581.33,458.47 L582.56,457.85 L583.79,457.21 L585.01,456.55 L586.22,455.87 L587.43,455.17 L588.62,454.46 L589.81,453.73 L590.98,453.00 L592.14,452.25 L593.27,451.50 L594.39,450.74 L595.49,449.98 L596.56,449.22 L597.61,448.46 L598.63,447.70 L599.63,446.95 L600.60,446.19 L601.55,445.44 L602.47,444.70 L603.37,443.95 L604.25,443.22 L605.10,442.49 L605.93,441.76 L606.73,441.04 L607.51,440.33 L608.27,439.63 L609.01,438.94 L609.72,438.25 L610.42,437.57 L611.10,436.89 L611.76,436.21 L612.42,435.54 L613.08,434.86 L613.72,434.17 L614.37,433.48 L615.02,432.77 L615.67,432.06 L616.33,431.33 L617.00,430.59 L617.69,429.83 L618.38,429.05 L619.10,428.25 L619.83,427.43 L620.57,426.60 L621.33,425.75 L622.10,424.88 L622.88,424.00 L623.67,423.10 L624.47,422.20 L625.27,421.28 L626.08,420.35 L626.90,419.41 L627.72,418.47 L628.55,417.52 L629.37,416.56 L630.20,415.60 L631.02,414.64 L631.85,413.68 L632.66,412.72 L633.47,411.76 L634.28,410.81 L635.07,409.86 L635.85,408.93 L636.61,408.00 L637.36,407.09 L638.10,406.19 L638.81,405.31 L639.51,404.44 L640.18,403.59 L640.84,402.76 L641.48,401.95 L642.10,401.15 L642.70,400.37 L643.28,399.61 L643.85,398.87 L644.41,398.14 L644.94,397.43 L645.46,396.73 L645.97,396.05 L646.46,395.39 L646.94,394.74 L647.40,394.10 L647.85,393.48 L648.29,392.87 L648.71,392.27 L649.13,391.69 L649.53,391.11 L649.92,390.55 L650.30,389.99 L650.67,389.44 L651.03,388.90 L651.38,388.37 L651.73,387.84 L652.06,387.32 L652.39,386.80 L652.71,386.29 L653.03,385.78 L653.34,385.27 L653.65,384.76 L653.95,384.26 L654.26,383.75 L654.56,383.24 L654.87,382.73 L655.17,382.21 L655.48,381.70 L655.78,381.17 L656.10,380.65 L656.41,380.11 L656.73,379.57 L657.06,379.01 L657.40,378.44 L657.74,377.86 L658.09,377.26 L658.45,376.64 L658.83,376.00 L659.21,375.34 L659.61,374.66 L660.02,373.94 L660.45,373.21 L660.90,372.44 L661.36,371.64 L661.83,370.81 L662.33,369.94 L662.85,369.04 L663.38,368.11 L663.93,367.15 L664.49,366.16 L665.08,365.15 L665.68,364.11 L666.30,363.05 L666.93,361.96 L667.58,360.85 L668.25,359.72 L668.93,358.57 L669.62,357.40 L670.34,356.22 L671.06,355.02 L671.81,353.81 L672.56,352.58 L673.34,351.34 L674.12,350.10 L674.91,348.84 L675.72,347.57 L676.53,346.30 L677.35,345.03 L678.18,343.75 L679.02,342.46 L679.85,341.18 L680.70,339.89 L681.54,338.61 L682.38,337.33 L683.23,336.05 L684.07,334.78 L684.91,333.52 L685.75,332.26 L686.58,331.01 L687.41,329.77 L688.23,328.54 L689.05,327.32 L689.85,326.11 L690.65,324.92 L691.44,323.74 L692.22,322.58 L692.98,321.43 L693.74,320.30 L694.48,319.19 L695.21,318.09 L695.93,317.02 L696.63,315.96 L697.32,314.93 L697.98,313.92 L698.63,312.93 L699.27,311.97 L699.88,311.03 L700.48,310.11 L701.06,309.21 L701.63,308.34 L702.18,307.49 L702.72,306.67 L703.24,305.86 L703.75,305.08 L704.25,304.31 L704.74,303.57 L705.21,302.84 L705.68,302.14 L706.13,301.45 L706.58,300.78 L707.02,300.13 L707.46,299.50 L707.88,298.89 L708.30,298.29 L708.72,297.70 L709.13,297.14 L709.54,296.58 L709.94,296.04 L710.35,295.51 L710.75,294.99 L711.16,294.47 L711.57,293.96 L711.98,293.46 L712.40,292.95 L712.82,292.45 L713.25,291.94 L713.69,291.43 L714.13,290.92 L714.59,290.39 L715.06,289.87 L715.54,289.33 L716.03,288.77 L716.54,288.21 L717.06,287.63 L717.60,287.04 L718.16,286.43 L718.73,285.81 L719.31,285.17 L719.91,284.53 L720.52,283.87 L721.15,283.20 L721.79,282.52 L722.45,281.83 L723.11,281.13 L723.79,280.42 L724.48,279.71 L725.19,278.99 L725.90,278.26 L726.63,277.52 L727.37,276.78 L728.12,276.04 L728.88,275.29 L729.65,274.54 L730.43,273.79 L731.22,273.03 L732.02,272.27 L732.84,271.51 L733.66,270.75 L734.49,269.99 L735.34,269.23 L736.19,268.47 L737.06,267.72 L737.93,266.96 L738.82,266.22 L739.71,265.47 L740.62,264.73 L741.54,263.99 L742.46,263.26 L743.40,262.53 L744.34,261.81 L745.29,261.10 L746.25,260.39 L747.22,259.69 L748.19,259.00 L749.17,258.31 L750.15,257.63 L751.14,256.96 L752.13,256.29 L753.13,255.63 L754.13,254.98 L755.13,254.34 L756.13,253.71 L757.14,253.08 L758.14,252.46 L759.15,251.85 L760.16,251.25 L761.16,250.65 L762.17,250.06 L763.17,249.48 L764.18,248.90 L765.18,248.33 L766.19,247.76 L767.19,247.20 L768.19,246.64 L769.19,246.09 L770.19,245.55 L771.18,245.00 L772.17,244.46 L773.16,243.93 L774.14,243.40 L775.12,242.87 L776.10,242.35 L777.07,241.84 L778.04,241.33 L779.00,240.83 L779.95,240.34 L780.90,239.85 L781.83,239.38 L782.76,238.92 L783.68,238.47 L784.59,238.03 L785.50,237.60 L786.39,237.18 L787.27,236.78 L788.14,236.39 L789.00,236.02 L789.85,235.66 L790.70,235.31 L791.54,234.97 L792.38,234.64 L793.23,234.32 L794.07,234.01 L794.93,233.71 L795.78,233.41 L796.65,233.12 L797.53,232.84 L798.41,232.56 L799.32,232.28 L800.23,232.01 L801.16,231.74 L802.10,231.48 L803.05,231.22 L804.00,230.97 L804.97,230.72 L805.93,230.48 L806.90,230.25 L807.86,230.03 L808.83,229.81 L809.79,229.60 L810.75,229.40 L811.70,229.21 L812.65,229.04 L813.58,228.87 L814.50,228.71 L815.41,228.56 L816.31,228.43 L817.20,228.30 L818.07,228.19 L818.92,228.08 L819.75,227.99 L820.57,227.91 L821.36,227.85 L822.13,227.79 L822.88,227.75 L823.61,227.72 L824.32,227.70 L825.03,227.69 L825.73,227.70 L826.43,227.71 L827.13,227.74 L827.84,227.78 L828.56,227.82 L829.30,227.87 L830.06,227.94 L830.84,228.01 L831.66,228.09 L832.51,228.18 L833.38,228.27 L834.29,228.38 L835.22,228.50 L836.18,228.63 L837.17,228.78 L838.18,228.94 L839.20,229.11 L840.25,229.30 L841.32,229.51 L842.41,229.74 L843.51,229.99 L844.62,230.26 L845.75,230.55 L846.89,230.86 L848.04,231.20 L849.20,231.55 L850.36,231.93 L851.54,232.34 L852.72,232.76 L853.91,233.20 L855.11,233.67 L856.30,234.15 L857.50,234.66 L858.71,235.18 L859.91,235.73 L861.11,236.29 L862.31,236.88 L863.51,237.48 L864.71,238.10 L865.90,238.74 L867.09,239.39 L868.26,240.06 L869.43,240.73 L870.58,241.42 L871.72,242.12 L872.85,242.83 L873.96,243.54 L875.05,244.26 L876.12,244.98 L877.17,245.70 L878.21,246.43 L879.22,247.16 L880.21,247.89 L881.18,248.61 L882.12,249.34 L883.05,250.05 L883.95,250.76 L884.83,251.47 L885.69,252.16 L886.53,252.85 L887.34,253.52 L888.13,254.18 L888.90,254.83 L889.64,255.47 L890.36,256.08 L891.06,256.68 L891.74,257.26 L892.39,257.83 L893.03,258.38 L893.65,258.92 L894.25,259.44 L894.84,259.95 L895.42,260.45 L895.99,260.94 L896.54,261.42 L897.09,261.88 L897.64,262.34 L898.17,262.79 L898.71,263.23 L899.24,263.67 L899.78,264.09 L900.31,264.52 L900.85,264.93 L901.39,265.35 L901.94,265.76 L902.49,266.17 L903.05,266.59 L903.61,267.01 L904.18,267.43 L904.76,267.86 L905.35,268.30 L905.95,268.74 L906.56,269.20 L907.18,269.67 L907.82,270.16 L908.47,270.66 L909.13,271.18 L909.80,271.72 L910.49,272.29 L911.20,272.87 L911.93,273.48 L912.67,274.11 L913.42,274.77 L914.20,275.45 L914.99,276.15 L915.79,276.87 L916.60,277.61 L917.43,278.37 L918.28,279.14 L919.13,279.94 L920.00,280.75 L920.87,281.57 L921.76,282.41 L922.66,283.26 L923.56,284.12 L924.48,284.99 L925.40,285.88 L926.33,286.77 L927.27,287.67 L928.21,288.57 L929.16,289.49 L930.11,290.40 L931.07,291.32 L932.03,292.24 L933.00,293.17 L933.97,294.09 L934.94,295.01 L935.91,295.93 L936.88,296.85 L937.85,297.76 L938.82,298.66 L939.79,299.56 L940.76,300.45 L941.73,301.33 L942.69,302.19 L943.65,303.05 L944.61,303.89 L945.56,304.72 L946.51,305.54 L947.45,306.35 L948.39,307.14 L949.32,307.91 L950.25,308.68 L951.17,309.43 L952.09,310.17 L953.00,310.89 L953.91,311.60 L954.81,312.30 L955.70,312.98 L956.59,313.65 L957.47,314.31 L958.34,314.95 L959.21,315.57 L960.07,316.19 L960.92,316.78 L961.76,317.37 L962.60,317.94 L963.43,318.49 L964.25,319.03 L965.07,319.56 L965.88,320.07 L966.68,320.57 L967.48,321.06 L968.26,321.54 L969.05,322.00 L969.82,322.45 L970.59,322.89 L971.35,323.31 L972.11,323.73 L972.86,324.13 L973.60,324.52 L974.34,324.90 L975.07,325.27 L975.80,325.62 L976.52,325.97 L977.23,326.31 L977.95,326.63 L978.65,326.95 L979.36,327.26 L980.06,327.56 L980.77,327.85 L981.48,328.13 L982.19,328.41 L982.90,328.67 L983.62,328.94 L984.35,329.20 L985.08,329.45 L985.82,329.69 L986.58,329.94 L987.34,330.18 L988.12,330.41 L988.91,330.65 L989.72,330.88 L990.54,331.11 L991.38,331.34 L992.24,331.56 L993.12,331.79 L994.01,332.01 L994.93,332.24 L995.86,332.46 L996.82,332.68 L997.78,332.90 L998.77,333.12 L999.78,333.33 L1000.80,333.54 L1001.83,333.75 L1002.89,333.96 L1003.96,334.16 L1005.04,334.36 L1006.14,334.55 L1007.26,334.74 L1008.39,334.93 L1009.53,335.11 L1010.69,335.29 L1011.86,335.46 L1013.05,335.62 L1014.25,335.79 L1015.46,335.94 L1016.68,336.09 L1017.92,336.24 L1019.16,336.38 L1020.42,336.51 L1021.68,336.65 L1022.95,336.78 L1024.23,336.91 L1025.52,337.03 L1026.81,337.15 L1028.10,337.27 L1029.40,337.39 L1030.70,337.51 L1032.00,337.63 L1033.30,337.75 L1034.61,337.87 L1035.91,337.98 L1037.21,338.10 L1038.51,338.22 L1039.81,338.34 L1041.11,338.47 L1042.40,338.59 L1043.69,338.72 L1044.97,338.85 L1046.25,338.98 L1047.53,339.11 L1048.80,339.24 L1050.07,339.37 L1051.34,339.51 L1052.60,339.65 L1053.86,339.79 L1055.11,339.93 L1056.36,340.08 L1057.60,340.22 L1058.84,340.37 L1060.07,340.52 L1061.29,340.67 L1062.51,340.83 L1063.73,340.98 L1064.93,341.14 L1066.13,341.30 L1067.32,341.47 L1068.50,341.63 L1069.67,341.80 L1070.82,341.96 L1071.96,342.13 L1073.09,342.30 L1074.19,342.48 L1075.28,342.65 L1076.35,342.82 L1077.40,343.00 L1078.42,343.17 L1079.43,343.35 L1080.40,343.52 L1081.36,343.70 L1082.28,343.88 L1083.18,344.05 L1084.05,344.23 L1084.89,344.41 L1085.71,344.59 L1086.51,344.77 L1087.29,344.96 L1088.06,345.15 L1088.82,345.34 L1089.57,345.54 L1090.32,345.75 L1091.06,345.96 L1091.80,346.18 L1092.55,346.41 L1093.30,346.65 L1094.06,346.90 L1094.84,347.17 L1095.63,347.44 L1096.43,347.72 L1097.26,348.02 L1098.10,348.33 L1098.97,348.66 L1099.85,348.99 L1100.74,349.33 L1101.65,349.68 L1102.56,350.04 L1103.47,350.41 L1104.39,350.78 L1105.31,351.15 L1106.23,351.52 L1107.14,351.90 L1108.04,352.28 L1108.93,352.65 L1109.81,353.03 L1110.68,353.40 L1111.53,353.76 L1112.37,354.13 L1113.20,354.49 L1114.03,354.86 L1114.84,355.23 L1115.65,355.59 L1116.46,355.97 L1117.27,356.34 L1118.08,356.72 L1118.89,357.11 L1119.70,357.50 L1120.52,357.90 L1121.35,358.31 L1122.19,358.73 L1123.04,359.16 L1123.89,359.60 L1124.75,360.05 L1125.60,360.50 L1126.46,360.95 L1127.32,361.42 L1128.17,361.88 L1129.02,362.35 L1129.86,362.82 L1130.69,363.30 L1131.50,363.77 L1132.31,364.25 L1133.11,364.73 L1133.90,365.21 L1134.68,365.70 L1135.47,366.20 L1136.26,366.70 L1137.05,367.22 L1137.84,367.75 L1138.65,368.29 L1139.46,368.84 L1140.29,369.41 L1141.14,370.00 L1142.00,370.61 L1142.88,371.23 L1143.76,371.86 L1144.66,372.51 L1145.57,373.17 L1146.49,373.84 L1147.41,374.51 L1148.33,375.19 L1149.25,375.87 L1150.17,376.56 L1151.08,377.24 L1151.99,377.93 L1152.90,378.61 L1153.80,379.30 L1154.70,379.99 L1155.60,380.67 L1156.50,381.36 L1157.39,382.04 L1158.28,382.73 L1159.17,383.42 L1160.06,384.11 L1160.95,384.80 L1161.84,385.49 L1162.72,386.18 L1163.61,386.87 L1164.49,387.56 L1165.38,388.23 L1166.26,388.91 L1167.13,389.57 L1168.01,390.23 L1168.88,390.88 L1169.75,391.52 L1170.61,392.14 L1171.47,392.76 L1172.32,393.36 L1173.17,393.95 L1174.00,394.53 L1174.83,395.10 L1175.65,395.65 L1176.46,396.19 L1177.26,396.71 L1178.05,397.22 L1178.83,397.72 L1179.60,398.20 L1180.37,398.67 L1181.12,399.13 L1181.86,399.58 L1182.60,400.01 L1183.33,400.44 L1184.06,400.86 L1184.78,401.26 L1185.49,401.66 L1186.20,402.05 L1186.91,402.43 L1187.62,402.80 L1188.33,403.17 L1189.03,403.53 L1189.74,403.89 L1190.46,404.24 L1191.19,404.59 L1191.94,404.94 L1192.70,405.30 L1193.49,405.65 L1194.31,406.01 L1195.15,406.38 L1196.02,406.75 L1196.91,407.12 L1197.83,407.50 L1198.76,407.87 L1199.71,408.25 L1200.67,408.62 L1201.65,409.00 L1202.64,409.37 L1203.63,409.74 L1204.62,410.10 L1205.62,410.46 L1206.62,410.81 L1207.61,411.15 L1208.60,411.49 L1209.58,411.82 L1210.54,412.13 L1211.49,412.44 L1212.41,412.73 L1213.32,413.00 L1214.19,413.26 L1215.05,413.51 L1215.88,413.73 L1216.69,413.93 L1217.49,414.12 L1218.27,414.29 L1219.05,414.43 L1219.82,414.56 L1220.59,414.66 L1221.37,414.74 L1222.16,414.80 L1222.97,414.83 L1223.81,414.84 L1224.68,414.83 L1225.58,414.79 L1226.53,414.72 L1227.54,414.63 L1228.58,414.51 L1229.67,414.37 L1230.79,414.21 L1231.93,414.02 L1233.10,413.82 L1234.28,413.60 L1235.47,413.36 L1236.66,413.11 L1237.85,412.84 L1239.04,412.56 L1240.22,412.27 L1241.41,411.96 L1242.59,411.63 L1243.76,411.29 L1244.94,410.94 L1246.11,410.57 L1247.27,410.19 L1248.42,409.80 L1249.57,409.39 L1250.70,408.98 L1251.83,408.56 L1252.94,408.14 L1254.04,407.71 L1255.12,407.27 L1256.18,406.84 L1257.23,406.40 L1258.26,405.97 L1259.28,405.53 L1260.28,405.09 L1261.28,404.64 L1262.27,404.19 L1263.24,403.74 L1264.22,403.27 L1265.18,402.80 L1266.15,402.32 L1267.12,401.84 L1268.08,401.34 L1269.05,400.84 L1270.01,400.32 L1270.99,399.81 L1271.96,399.28 L1272.94,398.75 L1273.93,398.22 L1274.92,397.68 L1275.92,397.14 L1276.92,396.60 L1277.94,396.06 L1278.96,395.51 L1279.99,394.96 L1281.02,394.41 L1282.06,393.86 L1283.10,393.31 L1284.14,392.75 L1285.18,392.19 L1286.22,391.63 L1287.26,391.07 L1288.30,390.50 L1289.33,389.93 L1290.35,389.36 L1291.37,388.80 L1292.38,388.24 L1293.38,387.69 L1294.37,387.14 L1295.35,386.61 L1296.31,386.08 L1297.26,385.57 L1298.19,385.08 L1299.10,384.59 L1300.00,384.13 L1300.87,383.67 L1301.72,383.24 L1302.55,382.82 L1303.35,382.42 L1304.12,382.04 L1304.88,381.67 L1305.61,381.33 L1306.33,380.99 L1307.05,380.66 L1307.77,380.34 L1308.50,380.02 L1309.24,379.71 L1310.00,379.39 L1310.78,379.07 L1311.59,378.75 L1312.42,378.43 L1313.26,378.10 L1314.13,377.78 L1315.01,377.46 L1315.91,377.14 L1316.82,376.82 L1317.74,376.51 L1318.67,376.20 L1319.59,375.90 L1320.51,375.60 L1321.43,375.32 L1322.32,375.05 L1323.20,374.78 L1324.05,374.54 L1324.88,374.30 L1325.68,374.08 L1326.45,373.87 L1327.20,373.66 L1327.93,373.45 L1328.63,373.25 L1329.31,373.05 L1329.98,372.85 L1330.63,372.65 L1331.27,372.45 L1331.91,372.25 L1332.54,372.06 L1333.17,371.87 L1333.81,371.68 L1334.45,371.49 L1335.10,371.31 L1335.77,371.14 L1336.45,370.97 L1337.15,370.80 L1337.88,370.64 L1338.63,370.49 L1339.40,370.34 L1340.20,370.20 L1341.01,370.07 L1341.85,369.95 L1342.70,369.83 L1343.56,369.73 L1344.44,369.63 L1345.33,369.54 L1346.22,369.46 L1347.13,369.39 L1348.04,369.33 L1348.96,369.28 L1349.87,369.25 L1350.80,369.22 L1351.74,369.20 L1352.70,369.20 L1353.71,369.19 L1354.76,369.20 L1355.87,369.21 L1357.05,369.23 L1358.31,369.24 L1359.66,369.26 L1361.11,369.28 L1362.67,369.30 L1364.35,369.32 L1366.17,369.33 L1368.10,369.35 L1370.14,369.35 L1372.27,369.36 L1374.47,369.37 L1376.75,369.37 L1379.07,369.37 L1381.44,369.37 L1383.83,369.37 L1386.23,369.36 L1388.63,369.36 L1391.01,369.35 L1393.37,369.35 L1395.72,369.34 L1398.04,369.33 L1400.35,369.33 L1402.65,369.32 L1404.93,369.31 L1407.21,369.30 L1409.48,369.29 L1411.75,369.28" stroke="#bebebe"/><path d="M194.69,500.61 L195.83,500.39 L196.99,500.18 L198.20,499.96 L199.44,499.75 L200.73,499.54 L202.07,499.33 L203.46,499.12 L204.90,498.90 L206.39,498.69 L207.92,498.47 L209.49,498.26 L211.09,498.03 L212.72,497.81 L214.37,497.58 L216.05,497.34 L217.74,497.10 L219.44,496.85 L221.15,496.60 L222.86,496.34 L224.57,496.07 L226.27,495.79 L227.96,495.51 L229.63,495.21 L231.28,494.91 L232.92,494.60 L234.53,494.28 L236.11,493.95 L237.68,493.61 L239.22,493.26 L240.73,492.90 L242.22,492.53 L243.68,492.14 L245.11,491.75 L246.51,491.35 L247.88,490.93 L249.23,490.51 L250.55,490.07 L251.83,489.63 L253.10,489.17 L254.33,488.71 L255.54,488.23 L256.72,487.74 L257.88,487.25 L259.01,486.74 L260.12,486.23 L261.20,485.71 L262.27,485.17 L263.31,484.63 L264.33,484.08 L265.34,483.51 L266.34,482.93 L267.32,482.34 L268.29,481.74 L269.25,481.13 L270.21,480.50 L271.16,479.85 L272.11,479.20 L273.05,478.52 L273.99,477.83 L274.93,477.13 L275.86,476.41 L276.78,475.66 L277.71,474.90 L278.63,474.13 L279.55,473.33 L280.46,472.51 L281.37,471.66 L282.28,470.81 L283.19,469.93 L284.09,469.04 L284.99,468.14 L285.89,467.23 L286.79,466.32 L287.68,465.39 L288.58,464.47 L289.47,463.54 L290.36,462.61 L291.25,461.69 L292.14,460.76 L293.03,459.82 L293.92,458.88 L294.82,457.94 L295.72,456.99 L296.62,456.04 L297.53,455.07 L298.44,454.10 L299.36,453.12 L300.28,452.14 L301.20,451.15 L302.12,450.16 L303.03,449.16 L303.94,448.17 L304.84,447.18 L305.73,446.20 L306.60,445.22 L307.46,444.25 L308.30,443.28 L309.14,442.33 L309.95,441.37 L310.76,440.42 L311.56,439.48 L312.35,438.53 L313.12,437.59 L313.90,436.65 L314.66,435.71 L315.42,434.77 L316.18,433.83 L316.93,432.88 L317.68,431.94 L318.42,430.99 L319.16,430.05 L319.90,429.10 L320.63,428.15 L321.36,427.19 L322.09,426.24 L322.81,425.28 L323.54,424.32 L324.26,423.35 L324.98,422.38 L325.70,421.40 L326.42,420.41 L327.14,419.42 L327.87,418.41 L328.59,417.39 L329.31,416.36 L330.04,415.32 L330.77,414.28 L331.49,413.22 L332.22,412.16 L332.95,411.10 L333.67,410.03 L334.40,408.96 L335.13,407.89 L335.86,406.82 L336.58,405.75 L337.30,404.70 L338.02,403.65 L338.74,402.61 L339.45,401.58 L340.15,400.58 L340.85,399.59 L341.54,398.62 L342.22,397.67 L342.90,396.73 L343.57,395.82 L344.23,394.92 L344.88,394.03 L345.52,393.16 L346.16,392.30 L346.78,391.45 L347.39,390.62 L348.00,389.79 L348.59,388.98 L349.18,388.18 L349.76,387.40 L350.34,386.62 L350.91,385.85 L351.48,385.10 L352.04,384.36 L352.59,383.62 L353.15,382.89 L353.71,382.17 L354.27,381.44 L354.83,380.70 L355.41,379.94 L355.99,379.17 L356.59,378.37 L357.20,377.54 L357.83,376.68 L358.49,375.78 L359.16,374.84 L359.86,373.85 L360.58,372.82 L361.33,371.75 L362.10,370.65 L362.91,369.51 L363.73,368.33 L364.59,367.13 L365.48,365.89 L366.40,364.63 L367.34,363.34 L368.32,362.03 L369.33,360.70 L370.37,359.35 L371.43,357.98 L372.52,356.61 L373.64,355.23 L374.77,353.85 L375.92,352.47 L377.10,351.10 L378.28,349.74 L379.49,348.38 L380.70,347.05 L381.93,345.73 L383.16,344.43 L384.39,343.16 L385.63,341.91 L386.86,340.68 L388.09,339.49 L389.31,338.32 L390.52,337.18 L391.71,336.08 L392.88,335.02 L394.04,333.99 L395.18,332.99 L396.30,332.04 L397.39,331.12 L398.47,330.23 L399.52,329.38 L400.56,328.57 L401.56,327.79 L402.55,327.05 L403.51,326.35 L404.45,325.68 L405.37,325.04 L406.27,324.44 L407.15,323.87 L408.02,323.33 L408.89,322.82 L409.74,322.34 L410.59,321.89 L411.44,321.47 L412.29,321.07 L413.15,320.70 L414.00,320.35 L414.86,320.02 L415.72,319.73 L416.58,319.45 L417.45,319.19 L418.33,318.96 L419.21,318.75 L420.10,318.56 L421.01,318.39 L421.92,318.25 L422.85,318.12 L423.79,318.01 L424.75,317.92 L425.73,317.85 L426.71,317.81 L427.72,317.78 L428.73,317.77 L429.77,317.78 L430.83,317.81 L431.92,317.87 L433.05,317.95 L434.24,318.05 L435.48,318.18 L436.79,318.33 L438.14,318.51 L439.52,318.71 L440.93,318.94 L442.35,319.19 L443.78,319.46 L445.19,319.76 L446.59,320.09 L447.97,320.43 L449.32,320.79 L450.64,321.18 L451.91,321.58 L453.15,321.99 L454.35,322.42 L455.51,322.87 L456.62,323.32 L457.70,323.79 L458.73,324.28 L459.72,324.77 L460.68,325.27 L461.62,325.79 L462.52,326.33 L463.41,326.87 L464.28,327.43 L465.14,328.01 L465.99,328.61 L466.84,329.22 L467.68,329.86 L468.54,330.53 L469.40,331.22 L470.28,331.95 L471.17,332.71 L472.09,333.51 L473.03,334.34 L473.99,335.20 L474.97,336.09 L475.96,337.01 L476.96,337.95 L477.98,338.91 L479.00,339.89 L480.03,340.88 L481.06,341.88 L482.09,342.90 L483.13,343.92 L484.17,344.96 L485.21,346.00 L486.25,347.04 L487.28,348.09 L488.32,349.14 L489.35,350.20 L490.37,351.25 L491.39,352.30 L492.41,353.35 L493.42,354.40 L494.42,355.45 L495.42,356.50 L496.42,357.56 L497.41,358.61 L498.40,359.66 L499.38,360.71 L500.36,361.76 L501.34,362.82 L502.32,363.88 L503.29,364.94 L504.26,366.00 L505.23,367.06 L506.20,368.12 L507.17,369.19 L508.15,370.26 L509.12,371.33 L510.10,372.40 L511.08,373.47 L512.06,374.55 L513.04,375.62 L514.04,376.70 L515.03,377.78 L516.03,378.86 L517.03,379.94 L518.03,381.02 L519.03,382.09 L520.03,383.16 L521.03,384.22 L522.02,385.28 L523.02,386.32 L524.01,387.36 L525.00,388.39 L525.99,389.41 L526.96,390.41 L527.93,391.39 L528.89,392.35 L529.84,393.28 L530.78,394.20 L531.71,395.08 L532.62,395.94 L533.53,396.77 L534.43,397.58 L535.32,398.35 L536.21,399.09 L537.09,399.81 L537.98,400.49 L538.86,401.14 L539.74,401.76 L540.63,402.35 L541.53,402.92 L542.45,403.46 L543.38,403.97 L544.32,404.47 L545.29,404.95 L546.28,405.40 L547.29,405.83 L548.32,406.24 L549.36,406.62 L550.42,406.98 L551.49,407.30 L552.55,407.59 L553.61,407.83 L554.66,408.03 L555.70,408.18 L556.72,408.28 L557.72,408.31 L558.70,408.29 L559.67,408.21 L560.62,408.07 L561.57,407.89 L562.50,407.67 L563.43,407.40 L564.35,407.10 L565.26,406.77 L566.15,406.42 L567.03,406.03 L567.88,405.63 L568.71,405.21 L569.52,404.77 L570.31,404.31 L571.08,403.83 L571.84,403.33 L572.59,402.80 L573.33,402.24 L574.07,401.66 L574.80,401.04 L575.52,400.40 L576.24,399.73 L576.97,399.02 L577.69,398.29 L578.41,397.52 L579.13,396.72 L579.85,395.88 L580.58,395.02 L581.31,394.12 L582.05,393.18 L582.79,392.21 L583.53,391.21 L584.28,390.17 L585.03,389.09 L585.79,387.99 L586.55,386.85 L587.31,385.68 L588.07,384.47 L588.83,383.24 L589.58,381.97 L590.34,380.68 L591.09,379.35 L591.84,377.99 L592.59,376.61 L593.33,375.19 L594.07,373.75 L594.80,372.29 L595.53,370.81 L596.25,369.31 L596.96,367.79 L597.67,366.26 L598.36,364.73 L599.06,363.18 L599.74,361.63 L600.42,360.08 L601.08,358.52 L601.74,356.97 L602.39,355.43 L603.03,353.89 L603.66,352.36 L604.27,350.84 L604.88,349.33 L605.48,347.83 L606.07,346.35 L606.65,344.88 L607.22,343.42 L607.78,341.97 L608.33,340.55 L608.86,339.13 L609.39,337.74 L609.91,336.36 L610.42,335.00 L610.92,333.67 L611.41,332.35 L611.89,331.05 L612.36,329.77 L612.82,328.52 L613.27,327.29 L613.71,326.08 L614.15,324.89 L614.57,323.71 L614.99,322.56 L615.41,321.42 L615.81,320.29 L616.21,319.18 L616.61,318.08 L617.00,316.99 L617.39,315.90 L617.78,314.83 L618.16,313.76 L618.54,312.70 L618.92,311.64 L619.30,310.58 L619.68,309.53 L620.06,308.47 L620.45,307.41 L620.83,306.35 L621.22,305.29 L621.61,304.23 L622.00,303.16 L622.39,302.08 L622.78,301.00 L623.18,299.92 L623.57,298.83 L623.97,297.74 L624.37,296.64 L624.77,295.53 L625.17,294.42 L625.58,293.30 L625.99,292.17 L626.39,291.04 L626.80,289.90 L627.21,288.75 L627.62,287.59 L628.04,286.43 L628.45,285.25 L628.87,284.07 L629.28,282.87 L629.70,281.67 L630.12,280.46 L630.54,279.24 L630.96,278.01 L631.38,276.78 L631.80,275.54 L632.23,274.29 L632.65,273.03 L633.08,271.77 L633.51,270.50 L633.94,269.23 L634.36,267.95 L634.79,266.67 L635.23,265.38 L635.66,264.09 L636.09,262.80 L636.52,261.50 L636.96,260.20 L637.40,258.89 L637.83,257.59 L638.27,256.28 L638.71,254.97 L639.15,253.66 L639.59,252.35 L640.03,251.03 L640.47,249.72 L640.91,248.40 L641.36,247.08 L641.80,245.77 L642.25,244.45 L642.69,243.13 L643.14,241.81 L643.59,240.49 L644.04,239.17 L644.49,237.85 L644.94,236.52 L645.39,235.20 L645.85,233.88 L646.30,232.57 L646.76,231.25 L647.21,229.93 L647.67,228.61 L648.13,227.29 L648.59,225.97 L649.05,224.65 L649.51,223.33 L649.97,222.01 L650.43,220.69 L650.89,219.36 L651.35,218.04 L651.81,216.71 L652.27,215.38 L652.73,214.04 L653.19,212.71 L653.65,211.37 L654.11,210.02 L654.57,208.68 L655.02,207.33 L655.48,205.98 L655.94,204.62 L656.40,203.27 L656.85,201.92 L657.31,200.57 L657.77,199.22 L658.23,197.88 L658.70,196.55 L659.16,195.22 L659.63,193.89 L660.10,192.58 L660.57,191.27 L661.04,189.98 L661.52,188.70 L662.00,187.43 L662.48,186.17 L662.97,184.93 L663.46,183.70 L663.96,182.49 L664.46,181.30 L664.96,180.12 L665.46,178.96 L665.96,177.82 L666.47,176.71 L666.98,175.61 L667.49,174.53 L668.01,173.48 L668.52,172.45 L669.04,171.44 L669.56,170.46 L670.08,169.50 L670.60,168.56 L671.13,167.64 L671.66,166.72 L672.20,165.82 L672.74,164.91 L673.30,164.01 L673.86,163.09 L674.44,162.17 L675.03,161.22 L675.63,160.26 L676.24,159.27 L676.87,158.25 L677.52,157.21 L678.19,156.15 L678.87,155.08 L679.57,154.01 L680.30,152.95 L681.04,151.89 L681.80,150.84 L682.58,149.82 L683.39,148.83 L684.21,147.86 L685.05,146.94 L685.90,146.07 L686.77,145.25 L687.64,144.50 L688.51,143.81 L689.39,143.20 L690.26,142.66 L691.14,142.20 L692.03,141.82 L692.92,141.53 L693.82,141.32 L694.73,141.20 L695.67,141.16 L696.63,141.21 L697.63,141.36 L698.67,141.60 L699.74,141.92 L700.83,142.33 L701.94,142.81 L703.06,143.36 L704.17,143.96 L705.26,144.61 L706.33,145.31 L707.38,146.03 L708.39,146.78 L709.37,147.55 L710.30,148.32 L711.19,149.11 L712.04,149.91 L712.85,150.72 L713.62,151.54 L714.36,152.36 L715.06,153.19 L715.73,154.04 L716.37,154.89 L717.00,155.76 L717.62,156.65 L718.23,157.57 L718.84,158.52 L719.46,159.50 L720.10,160.51 L720.75,161.56 L721.41,162.64 L722.08,163.75 L722.76,164.90 L723.46,166.07 L724.16,167.27 L724.86,168.50 L725.57,169.75 L726.28,171.02 L726.99,172.32 L727.71,173.64 L728.42,174.97 L729.13,176.31 L729.83,177.67 L730.53,179.04 L731.23,180.41 L731.92,181.79 L732.60,183.18 L733.27,184.56 L733.94,185.94 L734.59,187.32 L735.23,188.70 L735.87,190.07 L736.49,191.43 L737.10,192.79 L737.71,194.14 L738.30,195.49 L738.89,196.82 L739.46,198.15 L740.03,199.47 L740.59,200.77 L741.14,202.07 L741.69,203.35 L742.23,204.62 L742.76,205.88 L743.28,207.14 L743.80,208.38 L744.31,209.61 L744.81,210.83 L745.31,212.05 L745.81,213.26 L746.30,214.46 L746.79,215.65 L747.27,216.84 L747.76,218.02 L748.23,219.19 L748.71,220.36 L749.18,221.52 L749.65,222.68 L750.12,223.83 L750.59,224.98 L751.06,226.13 L751.52,227.27 L751.98,228.41 L752.45,229.54 L752.91,230.68 L753.37,231.81 L753.84,232.94 L754.30,234.07 L754.76,235.20 L755.23,236.33 L755.69,237.46 L756.16,238.59 L756.63,239.72 L757.09,240.85 L757.57,241.98 L758.04,243.11 L758.51,244.24 L758.99,245.37 L759.47,246.50 L759.95,247.64 L760.43,248.78 L760.92,249.92 L761.41,251.06 L761.91,252.21 L762.41,253.36 L762.91,254.51 L763.42,255.67 L763.93,256.84 L764.45,258.00 L764.97,259.18 L765.51,260.36 L766.04,261.54 L766.59,262.74 L767.14,263.94 L767.70,265.14 L768.26,266.36 L768.84,267.58 L769.42,268.81 L770.00,270.04 L770.60,271.29 L771.19,272.54 L771.80,273.80 L772.40,275.06 L773.02,276.33 L773.63,277.61 L774.26,278.90 L774.88,280.19 L775.51,281.49 L776.14,282.80 L776.77,284.11 L777.41,285.42 L778.04,286.73 L778.67,288.04 L779.30,289.35 L779.93,290.65 L780.55,291.95 L781.16,293.24 L781.77,294.52 L782.37,295.79 L782.96,297.05 L783.55,298.29 L784.12,299.52 L784.69,300.73 L785.24,301.92 L785.78,303.08 L786.31,304.22 L786.83,305.34 L787.33,306.43 L787.82,307.48 L788.29,308.51 L788.75,309.50 L789.20,310.46 L789.63,311.39 L790.06,312.29 L790.48,313.15 L790.89,313.99 L791.30,314.81 L791.71,315.59 L792.12,316.35 L792.54,317.09 L792.96,317.80 L793.39,318.49 L793.83,319.16 L794.28,319.81 L794.75,320.45 L795.24,321.09 L795.75,321.72 L796.28,322.36 L796.84,323.01 L797.44,323.66 L798.07,324.34 L798.73,325.03 L799.44,325.75 L800.19,326.51 L800.98,327.29 L801.82,328.11 L802.70,328.95 L803.61,329.82 L804.57,330.71 L805.56,331.61 L806.59,332.54 L807.65,333.48 L808.74,334.43 L809.86,335.38 L811.02,336.35 L812.19,337.31 L813.39,338.28 L814.61,339.25 L815.85,340.21 L817.09,341.17 L818.35,342.11 L819.61,343.05 L820.87,343.98 L822.13,344.89 L823.38,345.79 L824.62,346.66 L825.85,347.52 L827.06,348.35 L828.26,349.16 L829.43,349.96 L830.59,350.73 L831.72,351.48 L832.83,352.21 L833.92,352.92 L834.97,353.61 L836.00,354.28 L837.00,354.94 L837.96,355.57 L838.90,356.19 L839.79,356.78 L840.65,357.36 L841.48,357.93 L842.28,358.48 L843.05,359.02 L843.81,359.56 L844.55,360.09 L845.27,360.62 L845.99,361.15 L846.71,361.69 L847.43,362.23 L848.15,362.78 L848.88,363.35 L849.63,363.93 L850.39,364.52 L851.18,365.14 L851.99,365.78 L852.83,366.45 L853.70,367.14 L854.59,367.85 L855.51,368.59 L856.45,369.35 L857.41,370.12 L858.40,370.92 L859.40,371.74 L860.43,372.58 L861.47,373.43 L862.52,374.31 L863.59,375.19 L864.68,376.10 L865.77,377.02 L866.88,377.95 L868.00,378.90 L869.12,379.86 L870.25,380.84 L871.39,381.82 L872.53,382.81 L873.67,383.81 L874.81,384.82 L875.96,385.83 L877.10,386.85 L878.24,387.87 L879.37,388.89 L880.50,389.92 L881.62,390.95 L882.74,391.97 L883.84,392.99 L884.94,394.01 L886.02,395.03 L887.09,396.04 L888.14,397.04 L889.19,398.04 L890.22,399.04 L891.24,400.03 L892.25,401.02 L893.25,402.00 L894.24,402.98 L895.22,403.96 L896.20,404.93 L897.16,405.90 L898.12,406.86 L899.07,407.82 L900.01,408.78 L900.95,409.74 L901.88,410.69 L902.80,411.64 L903.72,412.58 L904.64,413.53 L905.55,414.47 L906.46,415.41 L907.38,416.35 L908.29,417.29 L909.20,418.24 L910.11,419.18 L911.03,420.12 L911.95,421.07 L912.88,422.01 L913.81,422.96 L914.75,423.91 L915.69,424.87 L916.65,425.83 L917.61,426.79 L918.58,427.76 L919.56,428.72 L920.56,429.69 L921.56,430.66 L922.57,431.63 L923.60,432.60 L924.63,433.56 L925.68,434.52 L926.74,435.48 L927.82,436.43 L928.90,437.38 L930.00,438.32 L931.11,439.25 L932.24,440.17 L933.38,441.08 L934.54,441.98 L935.70,442.87 L936.88,443.74 L938.07,444.61 L939.26,445.45 L940.46,446.28 L941.67,447.09 L942.88,447.88 L944.10,448.65 L945.32,449.39 L946.54,450.12 L947.77,450.82 L948.99,451.50 L950.21,452.15 L951.42,452.77 L952.62,453.37 L953.81,453.94 L955.00,454.47 L956.16,454.98 L957.31,455.46 L958.44,455.91 L959.55,456.33 L960.63,456.71 L961.69,457.07 L962.73,457.38 L963.74,457.67 L964.73,457.92 L965.69,458.14 L966.62,458.33 L967.53,458.48 L968.41,458.60 L969.26,458.69 L970.09,458.74 L970.89,458.76 L971.67,458.74 L972.44,458.69 L973.21,458.61 L973.97,458.49 L974.74,458.34 L975.52,458.15 L976.31,457.93 L977.13,457.67 L977.97,457.37 L978.84,457.04 L979.74,456.68 L980.66,456.28 L981.61,455.84 L982.59,455.37 L983.59,454.87 L984.61,454.33 L985.66,453.75 L986.73,453.14 L987.83,452.50 L988.94,451.83 L990.08,451.11 L991.23,450.37 L992.40,449.60 L993.59,448.79 L994.80,447.96 L996.01,447.10 L997.24,446.21 L998.48,445.29 L999.73,444.36 L1000.98,443.40 L1002.24,442.42 L1003.50,441.42 L1004.76,440.40 L1006.03,439.36 L1007.30,438.31 L1008.56,437.24 L1009.83,436.15 L1011.10,435.05 L1012.37,433.94 L1013.63,432.82 L1014.89,431.68 L1016.15,430.54 L1017.41,429.39 L1018.66,428.23 L1019.91,427.06 L1021.15,425.89 L1022.38,424.72 L1023.60,423.55 L1024.81,422.39 L1026.01,421.23 L1027.19,420.09 L1028.35,418.96 L1029.49,417.85 L1030.60,416.75 L1031.70,415.68 L1032.76,414.64 L1033.80,413.62 L1034.81,412.64 L1035.79,411.69 L1036.74,410.78 L1037.65,409.90 L1038.54,409.06 L1039.42,408.23 L1040.27,407.44 L1041.12,406.66 L1041.96,405.89 L1042.79,405.14 L1043.62,404.40 L1044.47,403.67 L1045.32,402.93 L1046.18,402.20 L1047.06,401.46 L1047.97,400.71 L1048.89,399.96 L1049.85,399.19 L1050.83,398.42 L1051.83,397.65 L1052.85,396.87 L1053.90,396.09 L1054.98,395.32 L1056.07,394.55 L1057.19,393.78 L1058.33,393.02 L1059.50,392.28 L1060.68,391.54 L1061.89,390.82 L1063.12,390.11 L1064.36,389.42 L1065.62,388.75 L1066.90,388.11 L1068.18,387.49 L1069.47,386.89 L1070.77,386.33 L1072.08,385.80 L1073.39,385.30 L1074.69,384.84 L1076.00,384.41 L1077.30,384.03 L1078.59,383.69 L1079.88,383.38 L1081.16,383.12 L1082.44,382.90 L1083.71,382.72 L1084.97,382.58 L1086.22,382.48 L1087.47,382.42 L1088.70,382.40 L1089.93,382.42 L1091.15,382.48 L1092.36,382.57 L1093.58,382.70 L1094.79,382.87 L1096.00,383.07 L1097.21,383.30 L1098.43,383.56 L1099.65,383.85 L1100.88,384.17 L1102.11,384.52 L1103.33,384.88 L1104.55,385.28 L1105.76,385.69 L1106.96,386.12 L1108.15,386.56 L1109.32,387.02 L1110.47,387.50 L1111.61,387.99 L1112.73,388.49 L1113.84,389.01 L1114.93,389.55 L1116.01,390.11 L1117.07,390.69 L1118.13,391.28 L1119.17,391.90 L1120.20,392.53 L1121.23,393.17 L1122.24,393.83 L1123.25,394.50 L1124.25,395.18 L1125.24,395.87 L1126.23,396.56 L1127.22,397.26 L1128.21,397.96 L1129.20,398.67 L1130.19,399.38 L1131.19,400.09 L1132.20,400.80 L1133.22,401.51 L1134.25,402.22 L1135.28,402.92 L1136.32,403.61 L1137.37,404.29 L1138.42,404.96 L1139.47,405.61 L1140.53,406.24 L1141.59,406.85 L1142.67,407.43 L1143.75,407.99 L1144.85,408.51 L1145.96,408.99 L1147.08,409.43 L1148.23,409.83 L1149.40,410.19 L1150.60,410.49 L1151.82,410.74 L1153.08,410.94 L1154.38,411.08 L1155.72,411.16 L1157.10,411.17 L1158.53,411.11 L1160.00,410.98 L1161.53,410.76 L1163.10,410.45 L1164.74,410.05 L1166.41,409.56 L1168.11,409.00 L1169.83,408.36 L1171.55,407.67 L1173.27,406.91 L1174.95,406.11 L1176.60,405.28 L1178.20,404.45 L1179.74,403.61 L1181.19,402.81 L1182.54,402.04 L1183.79,401.33 L1184.95,400.67 L1186.01,400.04 L1186.99,399.45 L1187.91,398.87 L1188.76,398.30 L1189.56,397.72 L1190.32,397.14 L1191.05,396.54 L1191.74,395.92 L1192.42,395.26 L1193.08,394.57 L1193.73,393.84 L1194.38,393.05 L1195.02,392.22 L1195.66,391.34 L1196.30,390.41 L1196.94,389.45 L1197.57,388.45 L1198.20,387.41 L1198.83,386.33 L1199.46,385.21 L1200.09,384.05 L1200.71,382.85 L1201.34,381.62 L1201.97,380.34 L1202.59,379.04 L1203.22,377.70 L1203.83,376.33 L1204.44,374.95 L1205.05,373.55 L1205.64,372.15 L1206.21,370.74 L1206.78,369.32 L1207.34,367.90 L1207.89,366.49 L1208.42,365.08 L1208.95,363.68 L1209.46,362.29 L1209.96,360.93 L1210.45,359.61 L1210.93,358.35 L1211.39,357.15 L1211.83,356.02 L1212.26,354.98 L1212.68,354.02 L1213.09,353.13 L1213.48,352.30 L1213.87,351.53 L1214.25,350.80 L1214.62,350.12 L1214.98,349.48 L1215.33,348.88 L1215.67,348.32 L1216.01,347.80 L1216.33,347.31 L1216.65,346.85 L1216.96,346.42 L1217.26,346.02 L1217.56,345.63 L1217.85,345.25 L1218.15,344.86 L1218.45,344.46 L1218.76,344.02 L1219.08,343.52 L1219.42,342.96 L1219.77,342.32 L1220.15,341.58 L1220.54,340.76 L1220.94,339.86 L1221.36,338.89 L1221.78,337.87 L1222.20,336.81 L1222.61,335.72 L1223.02,334.61 L1223.42,333.49 L1223.80,332.37 L1224.16,331.27 L1224.50,330.17 L1224.84,329.08 L1225.16,327.98 L1225.47,326.88 L1225.78,325.77 L1226.09,324.64 L1226.40,323.49 L1226.72,322.31 L1227.05,321.11 L1227.39,319.87 L1227.74,318.59 L1228.11,317.27 L1228.50,315.91 L1228.91,314.51 L1229.33,313.07 L1229.77,311.60 L1230.22,310.10 L1230.68,308.57 L1231.16,307.01 L1231.65,305.43 L1232.16,303.83 L1232.67,302.20 L1233.20,300.56 L1233.73,298.90 L1234.27,297.22 L1234.82,295.54 L1235.38,293.84 L1235.95,292.13 L1236.52,290.41 L1237.10,288.69 L1237.68,286.95 L1238.27,285.21 L1238.86,283.47 L1239.45,281.72 L1240.04,279.96 L1240.64,278.21 L1241.23,276.45 L1241.82,274.69 L1242.41,272.93 L1243.00,271.17 L1243.59,269.41 L1244.17,267.67 L1244.75,265.93 L1245.32,264.20 L1245.89,262.48 L1246.45,260.78 L1247.00,259.09 L1247.55,257.42 L1248.09,255.78 L1248.62,254.16 L1249.14,252.56 L1249.65,251.00 L1250.15,249.46 L1250.64,247.95 L1251.12,246.48 L1251.59,245.05 L1252.04,243.65 L1252.49,242.28 L1252.92,240.96 L1253.34,239.66 L1253.75,238.41 L1254.15,237.19 L1254.54,236.01 L1254.92,234.87 L1255.29,233.76 L1255.65,232.70 L1256.00,231.67 L1256.34,230.69 L1256.67,229.74 L1256.99,228.83 L1257.31,227.96 L1257.61,227.12 L1257.92,226.30 L1258.21,225.51 L1258.51,224.73 L1258.80,223.96 L1259.09,223.21 L1259.38,222.46 L1259.67,221.71 L1259.96,220.95 L1260.26,220.19 L1260.56,219.42 L1260.87,218.64 L1261.17,217.84 L1261.49,217.04 L1261.80,216.22 L1262.12,215.40 L1262.44,214.58 L1262.76,213.75 L1263.07,212.92 L1263.39,212.10 L1263.71,211.28 L1264.02,210.46 L1264.32,209.65 L1264.63,208.85 L1264.93,208.05 L1265.23,207.26 L1265.53,206.46 L1265.82,205.66 L1266.12,204.85 L1266.43,204.03 L1266.74,203.19 L1267.05,202.33 L1267.37,201.44 L1267.70,200.53 L1268.04,199.59 L1268.39,198.61 L1268.75,197.61 L1269.13,196.56 L1269.51,195.49 L1269.92,194.37 L1270.34,193.23 L1270.78,192.05 L1271.23,190.83 L1271.71,189.58 L1272.21,188.29 L1272.73,186.97 L1273.27,185.61 L1273.84,184.22 L1274.43,182.80 L1275.05,181.35 L1275.69,179.87 L1276.35,178.36 L1277.04,176.84 L1277.76,175.29 L1278.50,173.73 L1279.27,172.15 L1280.07,170.55 L1280.90,168.94 L1281.75,167.32 L1282.63,165.70 L1283.52,164.09 L1284.44,162.48 L1285.37,160.88 L1286.32,159.30 L1287.28,157.74 L1288.25,156.21 L1289.22,154.70 L1290.20,153.24 L1291.18,151.81 L1292.17,150.43 L1293.15,149.08 L1294.14,147.79 L1295.12,146.53 L1296.10,145.33 L1297.08,144.17 L1298.04,143.07 L1299.00,142.02 L1299.95,141.03 L1300.90,140.09 L1301.83,139.22 L1302.75,138.41 L1303.67,137.66 L1304.58,136.98 L1305.47,136.37 L1306.36,135.83 L1307.24,135.37 L1308.11,134.99 L1308.99,134.68 L1309.89,134.46 L1310.80,134.32 L1311.75,134.28 L1312.73,134.32 L1313.77,134.47 L1314.85,134.70 L1315.98,135.03 L1317.14,135.44 L1318.33,135.92 L1319.53,136.46 L1320.73,137.07 L1321.93,137.73 L1323.12,138.43 L1324.28,139.17 L1325.42,139.94 L1326.54,140.73 L1327.62,141.54 L1328.67,142.36 L1329.67,143.19 L1330.63,144.01 L1331.55,144.82 L1332.41,145.63 L1333.22,146.42 L1334.01,147.22 L1334.76,148.01 L1335.48,148.81 L1336.19,149.61 L1336.89,150.43 L1337.58,151.27 L1338.28,152.12 L1338.98,153.00 L1339.69,153.91 L1340.42,154.84 L1341.16,155.80 L1341.91,156.79 L1342.67,157.81 L1343.44,158.84 L1344.22,159.90 L1345.00,160.98 L1345.79,162.09 L1346.58,163.21 L1347.37,164.35 L1348.17,165.51 L1348.96,166.69 L1349.75,167.88 L1350.54,169.09 L1351.32,170.32 L1352.10,171.55 L1352.88,172.80 L1353.66,174.07 L1354.44,175.35 L1355.21,176.64 L1355.99,177.94 L1356.76,179.26 L1357.53,180.59 L1358.31,181.92 L1359.08,183.27 L1359.85,184.63 L1360.62,186.00 L1361.40,187.38 L1362.17,188.76 L1362.95,190.16 L1363.72,191.56 L1364.50,192.97 L1365.29,194.39 L1366.07,195.82 L1366.86,197.26 L1367.66,198.70 L1368.45,200.15 L1369.26,201.61 L1370.06,203.08 L1370.88,204.55 L1371.70,206.03 L1372.52,207.51 L1373.35,209.00 L1374.19,210.50 L1375.04,211.99 L1375.89,213.49 L1376.74,214.99 L1377.60,216.48 L1378.46,217.97 L1379.33,219.46 L1380.20,220.93 L1381.07,222.39 L1381.94,223.85 L1382.82,225.29 L1383.70,226.71 L1384.58,228.12 L1385.45,229.51 L1386.33,230.87 L1387.21,232.22 L1388.08,233.55 L1388.95,234.85 L1389.82,236.14 L1390.67,237.40 L1391.52,238.63 L1392.36,239.84 L1393.19,241.03 L1394.01,242.19 L1394.81,243.33 L1395.60,244.44 L1396.38,245.52 L1397.14,246.57 L1397.88,247.60 L1398.61,248.61 L1399.32,249.59 L1400.02,250.55 L1400.71,251.49 L1401.38,252.41 L1402.04,253.31 L1402.69,254.20 L1403.33,255.07 L1403.96,255.93 L1404.58,256.78 L1405.19,257.62 L1405.79,258.45 L1406.38,259.27 L1406.97,260.09 L1407.56,260.90 L1408.14,261.71 L1408.72,262.52 L1409.30,263.33 L1409.88,264.13 L1410.46,264.94 L1411.04,265.75 L1411.62,266.55" stroke="#4876ff"/></g><line x1="276.50" y1="520.70" x2="276.50" y2="542.30" stroke="#000" stroke-width="1.80"/><line x1="459.00" y1="520.70" x2="459.00" y2="542.30" stroke="#000" stroke-width="1.80"/><line x1="641.50" y1="520.70" x2="641.50" y2="542.30" stroke="#000" stroke-width="1.80"/><line x1="824.40" y1="520.70" x2="824.40" y2="542.30" stroke="#000" stroke-width="1.80"/><line x1="1009.30" y1="520.70" x2="1009.30" y2="542.30" stroke="#000" stroke-width="1.80"/><line x1="1191.80" y1="520.70" x2="1191.80" y2="542.30" stroke="#000" stroke-width="1.80"/><line x1="1374.40" y1="520.70" x2="1374.40" y2="542.30" stroke="#000" stroke-width="1.80"/><line x1="140.20" y1="502.30" x2="160.45" y2="502.30" stroke="#000" stroke-width="1.80"/><line x1="140.20" y1="377.60" x2="160.45" y2="377.60" stroke="#000" stroke-width="1.80"/><line x1="140.20" y1="254.20" x2="160.45" y2="254.20" stroke="#000" stroke-width="1.80"/><line x1="140.20" y1="129.90" x2="160.45" y2="129.90" stroke="#000" stroke-width="1.80"/><text transform="matrix(0.348750 0 0 0.383039 258.731 599.317)" font-size="100" font-family='"Liberation Sans", sans-serif' fill="#000"  stroke="#fff" stroke-width="1.6416">-8</text><text transform="matrix(0.352500 0 0 0.384452 441.714 599.316)" font-size="100" font-family='"Liberation Sans", sans-serif' fill="#000"  stroke="#fff" stroke-width="1.6299">-6</text><text transform="matrix(0.359509 0 0 0.392000 623.982 599.700)" font-size="100" font-family='"Liberation Sans", sans-serif' fill="#000"  stroke="#fff" stroke-width="1.5983">-4</text><text transform="matrix(0.358360 0 0 0.389964 806.687 599.700)" font-size="100" font-family='"Liberation Sans", sans-serif' fill="#000"  stroke="#fff" stroke-width="1.6050">-2</text><text transform="matrix(0.353927 0 0 0.384452 997.084 599.316)" font-size="100" font-family='"Liberation Sans", sans-serif' fill="#000"  stroke="#fff" stroke-width="1.6266">0</text><text transform="matrix(0.391209 0 0 0.389964 1178.344 599.700)" font-size="100" font-family='"Liberation Sans", sans-serif' fill="#000"  stroke="#fff" stroke-width="1.5362">2</text><text transform="matrix(0.370297 0 0 0.392000 1361.767 599.700)" font-size="100" font-family='"Liberation Sans", sans-serif' fill="#000"  stroke="#fff" stroke-width="1.5748">4</text><g transform="matrix(0 -0.360322 0.366078 0 111.534 164.941)"><text font-size="100" font-family='"Liberation Sans", sans-serif' fill="#000"  stroke="#fff" stroke-width="1.6520">0.15</text><rect x="89.062" y="-8.500" width="19.092" height="14.000" fill="#fff"/><rect x="117.773" y="-8.500" width="18.311" height="14.000" fill="#fff"/></g><g transform="matrix(0 -0.359839 0.363251 0 111.537 289.239)"><text font-size="100" font-family='"Liberation Sans", sans-serif' fill="#000"  stroke="#fff" stroke-width="1.6596">0.10</text><rect x="89.062" y="-8.500" width="19.092" height="14.000" fill="#fff"/><rect x="117.773" y="-8.500" width="18.311" height="14.000" fill="#fff"/></g><g transform="matrix(0 -0.360322 0.363251 0 111.537 412.641)"><text font-size="100" font-family='"Liberation Sans", sans-serif' fill="#000"  stroke="#fff" stroke-width="1.6585">0.05</text></g><g transform="matrix(0 -0.359839 0.363251 0 111.537 537.339)"><text font-size="100" font-family='"Liberation Sans", sans-serif' fill="#000"  stroke="#fff" stroke-width="1.6596">0.00</text></g><text transform="matrix(0.338737 0 0 0.376190 659.731 689.624)" font-size="100" font-family='"Liberation Sans", sans-serif' fill="#000"  stroke="#fff" stroke-width="1.6808">WTP distribution</text><g transform="matrix(0 -0.371490 0.338874 0 30.568 329.565)"><text font-size="100" font-family='"Liberation Sans", sans-serif' fill="#000"  stroke="#fff" stroke-width="1.6911">Densitiy</text></g><rect x="1055.10" y="26.70" width="56.80" height="10.10" rx="0.00" fill="#c8c8c8"/><text transform="matrix(0.277608 0 0 0.282443 1141.767 45.200)" font-size="100" font-family='"Liberation Serif", serif' fill="#000" >MNL</text><rect x="1055.10" y="56.90" width="56.80" height="10.80" rx="0.00" fill="#f8bd8c"/><text transform="matrix(0.277246 0 0 0.275758 1142.230 75.100)" font-size="100" font-family='"Liberation Serif", serif' fill="#000" >IAL I</text><rect x="1056.70" y="95.00" width="56.50" height="11.10" rx="0.00" fill="#92d050"/><text transform="matrix(0.272727 0 0 0.268182 1142.245 105.700)" font-size="100" font-family='"Liberation Serif", serif' fill="#000" >IAL II</text><rect x="1053.80" y="121.40" width="59.40" height="13.90" rx="2.50" fill="#00b0f0"/><text transform="matrix(0.269635 0 0 0.271212 1142.256 137.100)" font-size="100" font-family='"Liberation Serif", serif' fill="#000" >IAL III</text></svg></body></html>
